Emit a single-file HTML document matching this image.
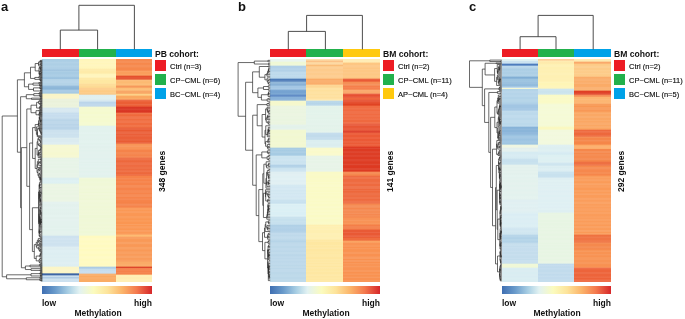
<!DOCTYPE html><html><head><meta charset="utf-8"><style>
*{margin:0;padding:0;box-sizing:border-box}
html,body{width:685px;height:319px;overflow:hidden;background:#fff}
body{position:relative;font-family:"Liberation Sans",sans-serif;color:#111}
.lab,.t,.it,.g,.sl{will-change:transform}
.a{position:absolute}
.lab{font-weight:bold;font-size:13px;line-height:13px;margin-top:-1.5px}
.t{font-weight:bold;font-size:8.6px;line-height:9px;white-space:nowrap}
.it{font-size:7.5px;line-height:8px;white-space:nowrap;color:#111;-webkit-text-stroke:0.15px #111}
.sq{width:11.2px;height:11px}
.g{font-weight:bold;font-size:8.5px;line-height:9px;white-space:nowrap;transform:rotate(-90deg);transform-origin:0 0}
.cb{height:7.6px;background:linear-gradient(to right,#3f6fb2 0%,#6a9bcb 12%,#a9cfe4 24%,#e2f2f2 34%,#fbfbbe 47%,#fde39a 60%,#fbb46a 73%,#f47a4e 86%,#d6272a 100%)}
.sl{font-weight:bold;font-size:8.5px;line-height:9px;white-space:nowrap}
</style></head><body><div class="a lab" style="left:1.0px;top:1px">a</div>
<div class="a" style="left:42.30px;top:49.40px;width:36.40px;height:8.00px;background:#ED1C24"></div>
<div class="a" style="left:78.70px;top:49.40px;width:37.30px;height:8.00px;background:#22B14C"></div>
<div class="a" style="left:116.00px;top:49.40px;width:36.00px;height:8.00px;background:#00A2E8"></div>
<div class="a" style="left:42.30px;top:59.40px;width:36.40px;height:222.20px;background:linear-gradient(to bottom,rgb(171,206,229) 0.95px 2.26px,rgb(178,210,231) 2.96px 4.10px,rgb(173,207,229) 4.80px 6.15px,rgb(178,210,231) 6.85px 8.07px,rgb(174,207,230) 8.77px 10.25px,rgb(156,192,221) 10.95px 11.25px,rgb(174,207,229) 11.95px 12.33px,rgb(167,203,227) 13.03px 15.06px,rgb(172,206,229) 15.76px 17.17px,rgb(167,203,227) 17.87px 18.25px,rgb(145,186,219) 18.95px 19.25px,rgb(180,211,231) 19.95px 21.09px,rgb(184,213,233) 21.79px 23.60px,rgb(180,211,231) 24.30px 26.25px,rgb(148,187,219) 26.95px 28.07px,rgb(140,182,216) 28.77px 30.25px,rgb(170,204,229) 30.95px 32.52px,rgb(166,202,227) 33.22px 34.25px,rgb(250,245,198) 34.95px 36.63px,rgb(250,245,202) 37.33px 39.25px,rgb(235,242,221) 39.95px 41.78px,rgb(234,241,218) 42.48px 43.15px,rgb(236,243,222) 43.85px 45.00px,rgb(235,242,219) 45.70px 46.71px,rgb(236,243,221) 47.41px 48.25px,rgb(214,231,240) 48.95px 49.41px,rgb(217,233,241) 50.11px 52.14px,rgb(214,231,240) 52.84px 53.25px,rgb(198,221,237) 53.95px 54.36px,rgb(202,223,239) 55.06px 55.68px,rgb(199,221,238) 56.38px 57.48px,rgb(201,223,238) 58.18px 59.25px,rgb(190,215,234) 59.95px 60.46px,rgb(186,213,232) 61.16px 61.84px,rgb(191,216,234) 62.54px 64.59px,rgb(185,212,232) 65.29px 66.14px,rgb(190,215,234) 66.84px 67.52px,rgb(185,212,232) 68.22px 70.25px,rgb(204,225,238) 70.95px 73.03px,rgb(207,227,239) 73.73px 74.50px,rgb(204,225,238) 75.20px 76.09px,rgb(206,227,238) 76.79px 77.22px,rgb(204,225,238) 77.92px 78.25px,rgb(221,237,240) 78.95px 79.92px,rgb(219,235,240) 80.62px 82.65px,rgb(222,237,241) 83.35px 85.25px,rgb(246,248,208) 85.95px 86.53px,rgb(246,248,211) 87.23px 89.00px,rgb(246,248,208) 89.70px 90.34px,rgb(246,248,211) 91.04px 93.03px,rgb(246,248,208) 93.73px 95.74px,rgb(246,248,211) 96.44px 98.25px,rgb(231,243,231) 98.95px 99.32px,rgb(233,244,233) 100.02px 100.75px,rgb(231,244,231) 101.45px 102.21px,rgb(233,244,233) 102.91px 104.28px,rgb(231,244,231) 104.98px 105.60px,rgb(233,244,233) 106.30px 106.72px,rgb(231,244,231) 107.42px 108.73px,rgb(233,244,233) 109.43px 110.84px,rgb(231,244,231) 111.54px 113.49px,rgb(233,244,233) 114.19px 114.52px,rgb(232,244,232) 115.22px 116.32px,rgb(233,244,233) 117.02px 117.64px,rgb(232,244,232) 118.29px,rgb(220,239,241) 118.95px 120.85px,rgb(223,241,243) 121.55px 123.04px,rgb(221,240,242) 123.74px 124.25px,rgb(234,245,227) 124.95px 125.28px,rgb(236,245,229) 125.98px 127.54px,rgb(234,245,227) 128.24px 128.58px,rgb(236,245,229) 129.28px 130.45px,rgb(234,245,227) 131.15px 132.02px,rgb(236,245,229) 132.72px 133.16px,rgb(234,245,227) 133.86px 135.49px,rgb(236,245,229) 136.19px 137.81px,rgb(234,245,227) 138.51px 140.24px,rgb(236,245,229) 140.94px 142.25px,rgb(229,242,239) 142.95px 144.82px,rgb(227,241,237) 145.52px 147.24px,rgb(229,242,239) 147.94px 149.27px,rgb(227,242,237) 149.97px 150.96px,rgb(228,242,238) 151.66px 153.06px,rgb(227,241,237) 153.76px 155.21px,rgb(229,243,239) 155.91px 157.79px,rgb(227,241,237) 158.49px 159.49px,rgb(229,242,239) 160.19px 161.54px,rgb(228,242,238) 162.24px 164.04px,rgb(228,242,238) 164.74px 166.40px,rgb(227,242,237) 167.10px 168.48px,rgb(229,243,239) 169.18px 169.89px,rgb(227,242,237) 170.59px 171.79px,rgb(229,242,238) 172.49px 174.44px,rgb(227,242,238) 175.14px 175.46px,rgb(229,242,238) 176.16px 176.25px,rgb(206,226,239) 176.95px 178.88px,rgb(210,228,241) 179.58px 180.68px,rgb(206,226,239) 181.38px 182.26px,rgb(209,228,240) 182.96px 183.62px,rgb(206,226,239) 184.32px 186.07px,rgb(209,228,240) 186.77px 187.25px,rgb(223,238,242) 187.95px 188.82px,rgb(221,237,241) 189.52px 190.71px,rgb(223,239,243) 191.41px 193.24px,rgb(221,238,242) 193.94px 195.95px,rgb(223,239,242) 196.65px 197.26px,rgb(221,238,242) 197.96px 198.75px,rgb(223,239,242) 199.45px 200.50px,rgb(221,238,242) 201.20px 202.38px,rgb(224,239,243) 203.08px 204.90px,rgb(221,238,242) 205.60px 207.25px,rgb(251,245,199) 207.95px 209.82px,rgb(251,245,202) 210.52px 212.10px,rgb(251,245,198) 212.80px 214.05px,rgb(56,97,163) 214.75px 215.29px,rgb(70,109,170) 215.99px 216.05px,rgb(201,222,238) 216.75px 217.30px,rgb(204,224,239) 218.03px,rgb(159,191,222) 218.75px 219.05px,rgb(206,226,239) 219.75px 221.28px,rgb(204,224,239) 221.92px)"></div>
<div class="a" style="left:78.70px;top:59.40px;width:37.30px;height:222.20px;background:linear-gradient(to bottom,rgb(255,246,187) 0.95px 2.10px,rgb(255,246,192) 2.80px 3.42px,rgb(255,246,187) 4.12px 5.04px,rgb(255,246,192) 5.74px 6.98px,rgb(255,246,188) 7.68px 9.25px,rgb(254,236,173) 9.95px 11.88px,rgb(254,235,169) 12.58px 14.25px,rgb(255,245,188) 14.95px 16.07px,rgb(255,245,192) 16.77px 18.25px,rgb(254,234,169) 18.95px 20.83px,rgb(254,232,162) 21.53px 23.53px,rgb(254,233,167) 24.24px,rgb(253,221,154) 24.95px 26.72px,rgb(253,219,148) 27.42px 28.25px,rgb(253,207,144) 28.95px 31.01px,rgb(253,203,133) 31.71px 32.98px,rgb(253,207,143) 33.68px 34.25px,rgb(250,196,127) 34.95px 35.25px,rgb(224,239,239) 35.95px 37.24px,rgb(225,240,240) 37.94px 39.12px,rgb(224,240,240) 39.82px 40.25px,rgb(216,233,240) 40.95px 41.56px,rgb(214,232,240) 42.26px,rgb(187,213,234) 42.95px 44.18px,rgb(193,217,236) 44.88px 47.25px,rgb(245,250,210) 47.95px 49.14px,rgb(245,250,207) 49.84px 50.29px,rgb(245,250,209) 50.99px 52.24px,rgb(245,250,206) 52.94px 54.55px,rgb(245,250,210) 55.25px 56.49px,rgb(245,250,207) 57.19px 58.50px,rgb(245,250,210) 59.20px 60.19px,rgb(245,250,207) 60.89px 62.81px,rgb(245,250,210) 63.51px 65.34px,rgb(245,250,206) 66.04px 66.25px,rgb(226,242,237) 66.95px 68.21px,rgb(227,242,238) 68.91px 70.30px,rgb(226,242,237) 71.00px 73.05px,rgb(228,243,239) 73.75px 74.77px,rgb(226,242,237) 75.47px 76.78px,rgb(227,242,238) 77.48px 79.03px,rgb(226,242,237) 79.73px 81.00px,rgb(228,243,239) 81.70px 83.72px,rgb(226,242,237) 84.42px 85.20px,rgb(228,242,239) 85.90px 86.43px,rgb(226,241,237) 87.13px 88.90px,rgb(228,242,238) 89.60px 90.76px,rgb(226,242,237) 91.46px 92.10px,rgb(228,242,238) 92.80px 94.77px,rgb(227,242,238) 95.47px 97.17px,rgb(228,242,238) 97.87px 98.52px,rgb(226,242,238) 99.22px 100.76px,rgb(228,242,239) 101.46px 102.40px,rgb(226,241,237) 103.10px 103.59px,rgb(228,242,239) 104.29px 104.81px,rgb(226,242,238) 105.51px 106.26px,rgb(228,242,239) 106.96px 108.21px,rgb(226,242,237) 108.91px 109.89px,rgb(228,242,238) 110.59px 111.84px,rgb(226,242,237) 112.54px 113.21px,rgb(228,242,239) 113.91px 115.36px,rgb(226,242,237) 116.06px 118.25px,rgb(241,248,218) 118.95px 119.67px,rgb(239,248,214) 120.37px 122.13px,rgb(240,248,217) 122.83px 123.70px,rgb(240,248,215) 124.40px 126.36px,rgb(241,248,218) 127.06px 129.15px,rgb(240,248,215) 129.85px 130.40px,rgb(240,248,217) 131.10px 132.70px,rgb(239,248,214) 133.40px 133.88px,rgb(241,248,218) 134.58px 135.64px,rgb(240,248,215) 136.34px 136.86px,rgb(240,248,217) 137.56px 139.10px,rgb(239,248,214) 139.80px 140.46px,rgb(241,248,218) 141.16px 143.10px,rgb(240,248,215) 143.80px 144.31px,rgb(240,248,217) 145.01px 146.67px,rgb(240,248,215) 147.37px 148.91px,rgb(240,248,217) 149.61px 150.03px,rgb(239,248,215) 150.73px 151.10px,rgb(241,248,217) 151.80px 153.03px,rgb(240,248,215) 153.73px 154.29px,rgb(241,248,218) 154.99px 155.66px,rgb(239,248,214) 156.36px 158.44px,rgb(240,248,217) 159.14px 159.61px,rgb(240,248,215) 160.31px 162.32px,rgb(240,248,217) 163.02px 164.70px,rgb(240,248,215) 165.40px 166.54px,rgb(241,248,217) 167.24px 168.32px,rgb(239,248,214) 169.02px 169.34px,rgb(240,248,217) 170.04px 171.86px,rgb(239,248,214) 172.56px 173.68px,rgb(240,248,217) 174.38px 175.41px,rgb(240,248,215) 176.11px 176.25px,rgb(255,250,192) 176.95px 178.86px,rgb(255,250,198) 179.56px 181.13px,rgb(255,250,193) 181.83px 183.26px,rgb(255,250,197) 183.96px 185.34px,rgb(255,250,192) 186.04px 188.11px,rgb(255,250,198) 188.81px 189.57px,rgb(255,250,192) 190.27px 191.91px,rgb(255,250,197) 192.61px 194.38px,rgb(255,250,192) 195.08px 196.99px,rgb(255,250,198) 197.69px 199.24px,rgb(255,250,193) 199.94px 201.62px,rgb(255,250,196) 202.32px 203.92px,rgb(255,250,193) 204.62px 205.54px,rgb(255,250,197) 206.24px 206.56px,rgb(255,250,193) 207.25px,rgb(172,203,229) 207.95px 209.25px,rgb(198,221,237) 209.95px 211.44px,rgb(202,223,238) 212.14px 213.40px,rgb(198,221,237) 214.10px 214.25px,rgb(250,177,110) 214.95px 216.62px,rgb(250,170,97) 217.32px 217.66px,rgb(250,175,107) 218.36px 219.99px,rgb(250,172,100) 220.69px 221.85px)"></div>
<div class="a" style="left:116.00px;top:59.40px;width:36.00px;height:222.20px;background:linear-gradient(to bottom,rgb(246,138,79) 0.95px 1.93px,rgb(246,145,90) 2.63px 3.38px,rgb(246,136,76) 4.08px 5.37px,rgb(246,144,88) 6.07px 8.11px,rgb(246,136,76) 8.81px 11.25px,rgb(250,163,101) 11.95px 12.39px,rgb(250,158,92) 13.09px 14.75px,rgb(250,162,98) 15.45px 16.25px,rgb(229,80,45) 16.95px 17.55px,rgb(230,88,55) 18.25px 20.25px,rgb(252,190,123) 20.95px 22.01px,rgb(252,186,114) 22.71px 24.08px,rgb(252,191,123) 24.78px 25.60px,rgb(252,186,115) 26.27px,rgb(246,152,91) 26.95px 28.25px,rgb(252,189,117) 28.95px 29.33px,rgb(252,192,124) 30.03px 31.25px,rgb(248,167,103) 31.95px 33.60px,rgb(248,161,93) 34.27px,rgb(253,209,137) 34.95px 36.25px,rgb(250,168,96) 36.95px 39.00px,rgb(250,174,107) 39.70px 40.25px,rgb(237,108,70) 40.95px 42.09px,rgb(235,94,53) 42.79px 44.56px,rgb(237,106,67) 45.26px 45.77px,rgb(236,97,56) 46.47px 47.25px,rgb(217,54,36) 47.95px 49.20px,rgb(219,66,48) 49.90px 51.00px,rgb(217,53,35) 51.70px 53.25px,rgb(241,118,76) 53.95px 55.01px,rgb(239,105,59) 55.71px 56.96px,rgb(241,118,76) 57.66px 59.68px,rgb(240,109,64) 60.38px 61.10px,rgb(241,118,76) 61.80px 63.71px,rgb(240,108,63) 64.41px 65.84px,rgb(241,118,75) 66.54px 67.32px,rgb(239,107,61) 68.02px 68.25px,rgb(234,101,64) 68.95px 70.61px,rgb(233,90,50) 71.31px 72.05px,rgb(235,105,69) 72.75px 74.70px,rgb(234,95,57) 75.40px 75.77px,rgb(235,103,66) 76.47px 77.26px,rgb(234,95,56) 77.96px 79.38px,rgb(234,101,63) 80.08px 81.36px,rgb(233,92,52) 82.06px 82.51px,rgb(235,104,67) 83.21px 84.25px,rgb(248,148,86) 84.95px 86.11px,rgb(248,154,97) 86.81px 87.73px,rgb(248,148,87) 88.43px 90.25px,rgb(245,131,74) 90.95px 92.71px,rgb(245,138,84) 93.41px 95.09px,rgb(245,132,76) 95.79px 96.85px,rgb(245,138,85) 97.55px 98.25px,rgb(238,114,73) 98.95px 101.03px,rgb(237,104,60) 101.73px 103.02px,rgb(239,114,74) 103.72px 105.68px,rgb(238,107,65) 106.38px 107.34px,rgb(238,113,71) 108.04px 109.92px,rgb(237,105,62) 110.62px 111.06px,rgb(239,116,75) 111.76px 112.94px,rgb(237,104,60) 113.64px 114.48px,rgb(238,113,72) 115.18px 115.61px,rgb(238,107,65) 116.28px,rgb(246,130,73) 116.95px 118.55px,rgb(246,137,84) 119.25px 120.06px,rgb(246,130,73) 120.76px 121.71px,rgb(246,137,83) 122.41px 123.37px,rgb(246,131,74) 124.07px 125.64px,rgb(246,141,88) 126.34px 128.30px,rgb(246,131,75) 129.00px 130.94px,rgb(246,138,84) 131.64px 133.39px,rgb(246,132,75) 134.09px 134.96px,rgb(246,141,88) 135.66px 137.64px,rgb(246,132,75) 138.34px 139.09px,rgb(246,138,85) 139.79px 140.75px,rgb(246,132,75) 141.45px 142.25px,rgb(245,130,72) 142.95px 144.26px,rgb(245,140,88) 144.96px 146.24px,rgb(245,132,76) 146.94px 148.25px,rgb(250,157,94) 148.95px 150.84px,rgb(250,152,85) 151.54px 151.88px,rgb(250,158,96) 152.58px 153.86px,rgb(250,151,84) 154.56px 156.59px,rgb(250,157,93) 157.29px 159.04px,rgb(250,151,83) 159.74px 161.03px,rgb(250,157,93) 161.73px 162.18px,rgb(250,150,82) 162.88px 164.50px,rgb(250,159,96) 165.20px 165.66px,rgb(250,151,83) 166.36px 166.92px,rgb(250,157,94) 167.62px 169.08px,rgb(250,151,83) 169.78px 170.48px,rgb(250,159,97) 171.18px 172.42px,rgb(250,152,86) 173.12px 174.13px,rgb(250,159,96) 174.83px 175.25px,rgb(253,187,115) 175.95px 177.25px,rgb(249,160,98) 177.95px 179.90px,rgb(249,153,87) 180.60px 182.38px,rgb(249,161,100) 183.08px 184.92px,rgb(249,152,86) 185.62px 187.42px,rgb(249,161,99) 188.12px 190.15px,rgb(249,153,87) 190.85px 192.09px,rgb(249,160,98) 192.79px 194.53px,rgb(249,155,90) 195.23px 196.29px,rgb(249,162,101) 196.99px 198.62px,rgb(249,155,90) 199.32px 200.30px,rgb(249,160,98) 201.00px 202.25px,rgb(250,171,103) 202.95px 205.00px,rgb(250,174,109) 205.70px 206.55px,rgb(250,169,100) 207.25px,rgb(221,70,44) 207.95px 208.85px,rgb(245,134,81) 209.55px 211.49px,rgb(245,129,74) 212.19px 212.68px,rgb(245,135,82) 213.38px 214.07px,rgb(245,128,72) 214.77px 215.25px,rgb(255,238,178) 215.95px 216.58px,rgb(255,239,183) 217.28px 217.89px,rgb(255,237,177) 218.59px 219.45px,rgb(255,239,182) 220.15px 221.85px)"></div>
<div class="a t" style="left:155.00px;top:49.5px">PB cohort:</div>
<div class="a sq" style="left:155.00px;top:60.40px;background:#ED1C24"></div>
<div class="a it" style="left:170.20px;top:62.80px">Ctrl (n=3)</div>
<div class="a sq" style="left:155.00px;top:74.35px;background:#22B14C"></div>
<div class="a it" style="left:170.20px;top:76.75px">CP−CML (n=6)</div>
<div class="a sq" style="left:155.00px;top:88.30px;background:#00A2E8"></div>
<div class="a it" style="left:170.20px;top:90.70px">BC−CML (n=4)</div>
<div class="a g" style="left:157.50px;top:192.20px">348 genes</div>
<div class="a cb" style="left:42.30px;top:286.4px;width:109.70px"></div>
<div class="a sl" style="left:42.30px;top:298.5px">low</div>
<div class="a sl" style="left:132.00px;top:298.5px;width:20px;text-align:right">high</div>
<div class="a sl" style="left:67.65px;top:308.5px;width:60px;text-align:center">Methylation</div>
<div class="a lab" style="left:237.5px;top:1px">b</div>
<div class="a" style="left:270.20px;top:49.40px;width:36.10px;height:8.00px;background:#ED1C24"></div>
<div class="a" style="left:306.30px;top:49.40px;width:37.00px;height:8.00px;background:#22B14C"></div>
<div class="a" style="left:343.30px;top:49.40px;width:36.70px;height:8.00px;background:#FFC90E"></div>
<div class="a" style="left:270.20px;top:59.40px;width:36.10px;height:222.20px;background:linear-gradient(to bottom,rgb(234,245,239) 0.45px 2.25px,rgb(239,248,213) 2.95px 4.24px,rgb(240,248,216) 4.94px 6.25px,rgb(177,208,231) 6.95px 8.96px,rgb(183,212,233) 9.66px 10.65px,rgb(178,209,231) 11.35px 12.25px,rgb(192,219,236) 12.95px 14.43px,rgb(188,217,235) 15.13px 15.45px,rgb(193,220,237) 16.15px 17.12px,rgb(188,217,235) 17.82px 19.25px,rgb(75,122,183) 19.95px 20.53px,rgb(88,131,188) 21.23px 22.25px,rgb(146,184,217) 22.95px 24.40px,rgb(136,177,214) 25.10px 26.25px,rgb(164,199,228) 26.95px 28.64px,rgb(169,202,229) 29.34px 30.25px,rgb(123,167,211) 30.95px 31.40px,rgb(118,163,209) 32.10px 33.69px,rgb(124,168,211) 34.39px 35.25px,rgb(97,140,198) 35.95px 37.25px,rgb(137,178,217) 37.95px 39.67px,rgb(142,181,219) 40.37px 41.25px,rgb(245,248,207) 41.95px 42.63px,rgb(245,248,204) 43.33px 44.57px,rgb(245,248,206) 45.27px 46.25px,rgb(234,245,224) 46.95px 47.39px,rgb(236,245,226) 48.09px 49.23px,rgb(234,245,224) 49.93px 50.88px,rgb(236,245,226) 51.58px 52.07px,rgb(234,245,224) 52.77px 53.90px,rgb(236,245,226) 54.60px 56.39px,rgb(234,245,224) 57.09px 57.41px,rgb(235,245,226) 58.11px 59.69px,rgb(234,245,224) 60.39px 61.71px,rgb(236,245,226) 62.41px 62.72px,rgb(235,245,224) 63.42px 65.25px,rgb(229,242,236) 65.95px 66.77px,rgb(227,242,234) 67.47px 68.74px,rgb(229,242,236) 69.44px 70.25px,rgb(242,248,211) 70.95px 71.71px,rgb(242,248,209) 72.41px 74.03px,rgb(242,248,212) 74.73px 76.73px,rgb(242,248,209) 77.43px 79.03px,rgb(242,248,211) 79.73px 81.52px,rgb(242,248,209) 82.22px 82.77px,rgb(243,248,212) 83.47px 84.99px,rgb(242,248,209) 85.69px 86.32px,rgb(242,248,212) 87.02px 88.25px,rgb(168,204,227) 88.95px 89.66px,rgb(172,206,229) 90.36px 90.88px,rgb(166,203,227) 91.58px 92.01px,rgb(173,207,229) 92.71px 93.78px,rgb(166,203,227) 94.48px 96.25px,rgb(206,229,240) 96.95px 97.94px,rgb(204,228,240) 98.64px 99.69px,rgb(207,229,241) 100.39px 101.41px,rgb(203,227,239) 102.11px 104.18px,rgb(207,229,241) 104.88px 105.25px,rgb(178,209,231) 105.95px 106.85px,rgb(181,211,232) 107.55px 108.25px,rgb(203,227,239) 108.95px 110.17px,rgb(207,229,241) 110.87px 112.25px,rgb(224,239,242) 112.95px 114.63px,rgb(226,240,243) 115.33px 116.62px,rgb(224,240,243) 117.32px 118.52px,rgb(226,241,244) 119.22px 120.80px,rgb(224,239,243) 121.50px 122.73px,rgb(226,240,243) 123.43px 125.25px,rgb(213,233,242) 125.95px 127.38px,rgb(211,231,242) 128.08px 128.53px,rgb(214,233,243) 129.23px 130.57px,rgb(210,231,241) 131.27px 132.16px,rgb(213,233,242) 132.86px 133.81px,rgb(210,231,241) 134.51px 135.03px,rgb(214,233,243) 135.73px 136.28px,rgb(211,231,242) 136.98px 138.25px,rgb(213,233,242) 138.95px 140.25px,rgb(202,226,239) 140.95px 143.04px,rgb(199,224,238) 143.74px 144.25px,rgb(222,241,245) 144.95px 145.77px,rgb(219,239,245) 146.47px 147.20px,rgb(221,240,245) 147.90px 149.70px,rgb(219,240,245) 150.40px 151.68px,rgb(221,240,245) 152.38px 152.74px,rgb(218,239,245) 153.44px 155.52px,rgb(221,240,245) 156.22px 157.25px,rgb(202,226,238) 157.95px 159.58px,rgb(198,224,237) 160.28px 161.64px,rgb(201,226,238) 162.34px 162.67px,rgb(199,224,238) 163.37px 164.52px,rgb(202,226,239) 165.23px,rgb(176,208,230) 165.95px 167.19px,rgb(180,210,232) 167.89px 169.21px,rgb(177,208,231) 169.91px 171.36px,rgb(180,210,231) 172.06px 173.25px,rgb(194,219,236) 173.95px 175.33px,rgb(190,217,234) 176.03px 177.07px,rgb(195,220,236) 177.77px 179.31px,rgb(190,217,234) 180.01px 181.25px,rgb(179,210,231) 181.95px 182.25px,rgb(188,216,233) 182.95px 184.03px,rgb(192,218,235) 184.73px 186.66px,rgb(188,216,233) 187.36px 188.61px,rgb(192,218,235) 189.31px 191.23px,rgb(187,215,233) 191.93px 192.33px,rgb(193,219,235) 193.03px 194.95px,rgb(187,215,233) 195.65px 197.03px,rgb(192,218,235) 197.73px 198.58px,rgb(189,216,234) 199.28px 199.70px,rgb(192,218,235) 200.40px 201.51px,rgb(189,216,234) 202.21px 203.22px,rgb(192,218,235) 203.92px 205.47px,rgb(188,216,233) 206.17px 206.90px,rgb(192,218,234) 207.60px 208.61px,rgb(187,215,233) 209.31px 209.74px,rgb(192,218,235) 210.44px 212.48px,rgb(188,216,233) 213.18px 215.04px,rgb(191,218,234) 215.74px 217.49px,rgb(188,216,233) 218.19px 219.83px,rgb(191,218,234) 220.53px 221.85px)"></div>
<div class="a" style="left:306.30px;top:59.40px;width:37.00px;height:222.20px;background:linear-gradient(to bottom,rgb(253,226,173) 0.45px 1.25px,rgb(250,182,123) 1.95px 2.25px,rgb(253,214,158) 2.95px 3.83px,rgb(253,217,164) 4.53px 5.25px,rgb(250,188,120) 5.95px 6.75px,rgb(253,203,140) 7.45px 7.81px,rgb(253,207,149) 8.51px 9.36px,rgb(253,203,140) 10.06px 12.04px,rgb(253,206,147) 12.74px 13.89px,rgb(253,203,140) 14.59px 15.42px,rgb(253,206,147) 16.12px 18.04px,rgb(253,204,142) 18.74px 19.25px,rgb(250,171,103) 19.95px 20.56px,rgb(250,177,113) 21.26px 23.35px,rgb(250,173,107) 24.05px 25.25px,rgb(253,216,152) 25.95px 26.34px,rgb(253,214,147) 27.04px 28.25px,rgb(254,226,164) 28.95px 30.82px,rgb(254,224,156) 31.52px 32.06px,rgb(254,226,163) 32.76px 34.75px,rgb(254,224,158) 35.45px 35.89px,rgb(254,226,164) 36.59px 37.44px,rgb(254,224,158) 38.14px 38.79px,rgb(254,226,164) 39.49px 40.25px,rgb(254,241,192) 40.95px 41.25px,rgb(187,216,234) 41.95px 43.31px,rgb(182,213,233) 44.01px 44.85px,rgb(187,216,235) 45.55px 46.25px,rgb(229,244,236) 46.95px 47.41px,rgb(227,243,234) 48.11px 49.20px,rgb(228,243,235) 49.90px 51.16px,rgb(227,243,235) 51.86px 53.24px,rgb(229,244,236) 53.94px 54.69px,rgb(227,243,235) 55.39px 55.85px,rgb(229,243,235) 56.55px 58.21px,rgb(227,243,234) 58.91px 59.71px,rgb(229,244,236) 60.41px 61.05px,rgb(228,243,235) 61.75px 63.82px,rgb(229,243,236) 64.52px 65.65px,rgb(227,242,234) 66.35px 67.35px,rgb(229,243,235) 68.05px 69.25px,rgb(227,243,234) 69.95px 71.25px,rgb(229,243,236) 71.95px 73.25px,rgb(197,221,237) 73.95px 75.18px,rgb(193,219,235) 75.88px 77.70px,rgb(198,222,237) 78.40px 79.64px,rgb(192,219,235) 80.29px,rgb(219,238,240) 80.95px 82.34px,rgb(221,239,241) 83.04px 84.14px,rgb(219,237,239) 84.84px 86.55px,rgb(221,239,240) 87.25px 88.25px,rgb(250,250,203) 88.95px 90.29px,rgb(250,250,207) 90.99px 91.36px,rgb(250,250,203) 92.06px 93.64px,rgb(250,250,206) 94.34px 96.25px,rgb(231,244,231) 96.95px 97.28px,rgb(233,244,233) 97.98px 99.06px,rgb(231,244,231) 99.76px 100.54px,rgb(233,245,233) 101.24px 101.67px,rgb(231,244,231) 102.37px 103.69px,rgb(233,244,233) 104.39px 106.12px,rgb(231,244,231) 106.82px 107.38px,rgb(233,244,233) 108.08px 108.46px,rgb(231,244,231) 109.16px 110.57px,rgb(233,244,233) 111.27px 112.25px,rgb(250,250,199) 112.95px 114.73px,rgb(250,250,201) 115.43px 116.19px,rgb(250,250,198) 116.89px 118.43px,rgb(250,250,201) 119.13px 120.84px,rgb(250,250,198) 121.54px 122.58px,rgb(250,250,203) 123.28px 123.97px,rgb(250,250,198) 124.67px 125.05px,rgb(250,250,203) 125.75px 127.42px,rgb(250,250,198) 128.12px 128.68px,rgb(250,250,201) 129.38px 131.02px,rgb(250,250,197) 131.72px 132.45px,rgb(250,250,202) 133.15px 133.71px,rgb(250,250,198) 134.41px 135.25px,rgb(250,250,201) 135.95px 136.38px,rgb(250,250,198) 137.08px 139.18px,rgb(250,250,201) 139.88px 141.50px,rgb(250,250,198) 142.20px 142.95px,rgb(250,250,202) 143.65px 144.39px,rgb(250,250,198) 145.09px 147.07px,rgb(250,250,203) 147.77px 148.67px,rgb(250,250,199) 149.37px 150.77px,rgb(250,250,202) 151.47px 152.50px,rgb(250,250,199) 153.20px 153.60px,rgb(250,250,202) 154.30px 155.85px,rgb(250,250,197) 156.55px 157.92px,rgb(250,250,202) 158.62px 159.75px,rgb(250,250,198) 160.45px 162.27px,rgb(250,250,201) 162.97px 165.25px,rgb(254,239,177) 165.95px 166.58px,rgb(254,240,182) 167.28px 167.88px,rgb(254,240,178) 168.58px 169.26px,rgb(254,240,182) 169.96px 170.82px,rgb(254,239,177) 171.52px 173.60px,rgb(254,240,182) 174.30px 176.16px,rgb(254,240,179) 176.86px 177.85px,rgb(254,240,182) 178.55px 180.25px,rgb(254,232,163) 180.95px 181.28px,rgb(254,233,168) 181.98px 182.76px,rgb(254,231,161) 183.46px 185.42px,rgb(254,233,167) 186.12px 186.90px,rgb(254,231,161) 187.60px 188.18px,rgb(254,233,169) 188.88px 189.83px,rgb(254,231,161) 190.53px 192.13px,rgb(254,233,167) 192.83px 193.16px,rgb(254,232,163) 193.86px 194.86px,rgb(254,233,167) 195.56px 197.44px,rgb(254,231,162) 198.14px 199.83px,rgb(254,233,168) 200.53px 200.93px,rgb(254,232,164) 201.63px 202.36px,rgb(254,233,168) 203.06px 203.63px,rgb(254,231,163) 204.33px 204.69px,rgb(254,233,168) 205.39px 206.45px,rgb(254,231,161) 207.15px 207.70px,rgb(254,233,169) 208.40px 209.17px,rgb(254,232,163) 209.87px 211.36px,rgb(254,233,167) 212.06px 212.73px,rgb(254,231,162) 213.43px 215.02px,rgb(254,233,169) 215.72px 216.71px,rgb(254,231,163) 217.41px 218.12px,rgb(254,233,167) 218.82px 219.74px,rgb(254,232,164) 220.44px 220.81px,rgb(254,233,168) 221.51px 221.85px)"></div>
<div class="a" style="left:343.30px;top:59.40px;width:36.70px;height:222.20px;background:linear-gradient(to bottom,rgb(255,236,182) 0.45px 2.51px,rgb(255,234,176) 3.23px,rgb(253,198,130) 3.95px 5.49px,rgb(253,202,140) 6.19px 8.21px,rgb(253,198,131) 8.91px 9.63px,rgb(253,202,139) 10.33px 10.79px,rgb(253,199,133) 11.49px 12.50px,rgb(253,201,138) 13.20px 14.19px,rgb(253,199,132) 14.89px 16.09px,rgb(253,202,138) 16.79px 17.37px,rgb(253,199,132) 18.07px 19.25px,rgb(235,98,64) 19.95px 20.68px,rgb(234,90,54) 21.38px 22.25px,rgb(245,141,83) 22.95px 24.30px,rgb(245,149,97) 25.00px 26.25px,rgb(245,127,75) 26.95px 27.95px,rgb(245,134,85) 28.65px 29.07px,rgb(245,126,74) 29.77px 30.25px,rgb(250,172,114) 30.95px 32.09px,rgb(250,169,108) 32.79px 33.55px,rgb(250,174,117) 34.25px,rgb(233,92,63) 34.95px 35.72px,rgb(231,80,49) 36.42px 37.06px,rgb(233,93,65) 37.76px 38.25px,rgb(239,103,61) 38.95px 40.25px,rgb(231,91,62) 40.95px 42.38px,rgb(229,80,49) 43.08px 44.25px,rgb(224,67,35) 44.95px 46.25px,rgb(240,108,67) 46.95px 48.89px,rgb(240,115,76) 49.59px 50.13px,rgb(240,106,65) 50.83px 51.69px,rgb(240,113,74) 52.39px 54.45px,rgb(240,107,66) 55.15px 55.79px,rgb(240,113,74) 56.49px 58.02px,rgb(239,105,64) 58.72px 59.02px,rgb(240,113,74) 59.72px 60.73px,rgb(239,105,63) 61.43px 62.62px,rgb(241,115,77) 63.32px 64.25px,rgb(233,98,68) 64.95px 66.75px,rgb(231,86,53) 67.45px 68.35px,rgb(233,94,63) 69.05px 71.25px,rgb(221,68,48) 71.95px 73.25px,rgb(236,98,64) 73.95px 75.73px,rgb(235,90,54) 76.43px 77.85px,rgb(237,99,65) 78.55px 79.87px,rgb(235,88,52) 80.57px 81.38px,rgb(236,99,65) 82.08px 83.34px,rgb(235,91,55) 84.04px 84.79px,rgb(237,100,66) 85.49px 86.11px,rgb(236,92,57) 86.81px 87.25px,rgb(221,57,34) 87.95px 88.43px,rgb(223,71,49) 89.13px 89.64px,rgb(221,59,35) 90.34px 92.03px,rgb(223,74,52) 92.73px 93.32px,rgb(221,62,38) 94.02px 95.89px,rgb(223,71,49) 96.59px 97.34px,rgb(221,60,36) 98.04px 99.78px,rgb(223,70,47) 100.48px 102.06px,rgb(221,60,36) 102.76px 104.35px,rgb(223,73,51) 105.05px 105.95px,rgb(221,57,33) 106.65px 108.47px,rgb(223,71,48) 109.17px 110.49px,rgb(221,58,34) 111.19px 112.25px,rgb(245,142,88) 112.95px 114.69px,rgb(245,136,78) 115.39px 116.25px,rgb(238,108,65) 116.95px 117.58px,rgb(239,117,77) 118.28px 119.64px,rgb(238,107,64) 120.34px 122.38px,rgb(239,114,74) 123.08px 124.62px,rgb(238,106,63) 125.32px 126.76px,rgb(239,117,77) 127.46px 129.44px,rgb(237,104,61) 130.14px 130.53px,rgb(238,112,71) 131.23px 131.74px,rgb(237,104,60) 132.44px 133.25px,rgb(238,113,72) 133.95px 136.04px,rgb(238,108,65) 136.74px 137.64px,rgb(239,115,74) 138.34px 139.61px,rgb(238,106,63) 140.31px 141.28px,rgb(239,116,76) 141.98px 144.25px,rgb(245,136,79) 144.95px 145.96px,rgb(245,146,93) 146.66px 148.33px,rgb(245,135,78) 149.03px 150.03px,rgb(245,145,92) 150.73px 152.02px,rgb(245,138,81) 152.72px 153.28px,rgb(245,145,93) 153.98px 154.47px,rgb(245,136,80) 155.17px 155.93px,rgb(245,143,89) 156.63px 157.14px,rgb(245,136,79) 157.84px 158.25px,rgb(248,147,86) 158.95px 160.38px,rgb(248,153,95) 161.08px 161.79px,rgb(248,147,86) 162.49px 163.44px,rgb(248,152,93) 164.14px 164.54px,rgb(248,147,86) 165.24px,rgb(244,126,72) 165.95px 166.58px,rgb(244,133,82) 167.28px 169.37px,rgb(244,126,72) 170.07px 170.25px,rgb(233,90,54) 170.95px 172.70px,rgb(235,100,67) 173.40px 173.81px,rgb(233,89,53) 174.51px 175.99px,rgb(235,103,69) 176.69px 177.49px,rgb(233,87,50) 178.19px 178.25px,rgb(239,109,63) 178.95px 181.25px,rgb(250,163,97) 181.95px 182.30px,rgb(250,167,103) 183.00px 183.25px,rgb(249,147,84) 183.95px 185.61px,rgb(249,152,91) 186.31px 187.53px,rgb(249,145,80) 188.23px 188.91px,rgb(249,154,94) 189.61px 189.93px,rgb(249,146,81) 190.63px 192.39px,rgb(249,153,93) 193.09px 194.71px,rgb(249,145,81) 195.41px 197.16px,rgb(249,155,96) 197.86px 199.54px,rgb(249,145,80) 200.24px 200.72px,rgb(249,154,95) 201.42px 202.45px,rgb(249,145,80) 203.15px 203.90px,rgb(249,154,94) 204.60px 204.94px,rgb(249,147,83) 205.64px 206.35px,rgb(249,154,94) 207.05px 208.01px,rgb(249,147,83) 208.71px 210.47px,rgb(249,153,93) 211.17px 212.62px,rgb(249,145,80) 213.32px 214.12px,rgb(249,152,91) 214.82px 215.70px,rgb(249,146,81) 216.40px 217.30px,rgb(249,154,95) 218.00px 218.68px,rgb(249,146,82) 219.38px 220.67px,rgb(249,152,91) 221.37px 221.85px)"></div>
<div class="a t" style="left:382.80px;top:49.5px">BM cohort:</div>
<div class="a sq" style="left:382.80px;top:60.40px;background:#ED1C24"></div>
<div class="a it" style="left:398.00px;top:62.80px">Ctrl (n=2)</div>
<div class="a sq" style="left:382.80px;top:74.35px;background:#22B14C"></div>
<div class="a it" style="left:398.00px;top:76.75px">CP−CML (n=11)</div>
<div class="a sq" style="left:382.80px;top:88.30px;background:#FFC90E"></div>
<div class="a it" style="left:398.00px;top:90.70px">AP−CML (n=4)</div>
<div class="a g" style="left:385.50px;top:192.20px">141 genes</div>
<div class="a cb" style="left:270.20px;top:286.4px;width:109.80px"></div>
<div class="a sl" style="left:270.20px;top:298.5px">low</div>
<div class="a sl" style="left:360.00px;top:298.5px;width:20px;text-align:right">high</div>
<div class="a sl" style="left:295.60px;top:308.5px;width:60px;text-align:center">Methylation</div>
<div class="a lab" style="left:469.0px;top:1px">c</div>
<div class="a" style="left:501.80px;top:49.40px;width:36.10px;height:8.00px;background:#ED1C24"></div>
<div class="a" style="left:537.90px;top:49.40px;width:36.40px;height:8.00px;background:#22B14C"></div>
<div class="a" style="left:574.30px;top:49.40px;width:36.70px;height:8.00px;background:#00A2E8"></div>
<div class="a" style="left:501.80px;top:59.40px;width:36.10px;height:222.20px;background:linear-gradient(to bottom,rgb(224,240,242) 0.45px 1.75px,rgb(204,227,240) 2.45px 4.25px,rgb(77,124,189) 4.95px 6.25px,rgb(188,217,236) 6.95px 8.25px,rgb(179,210,231) 8.95px 9.45px,rgb(171,206,229) 10.15px 11.22px,rgb(177,209,231) 11.92px 12.61px,rgb(173,207,229) 13.31px 14.89px,rgb(178,210,231) 15.59px 16.38px,rgb(173,207,229) 17.08px 17.25px,rgb(129,174,212) 17.95px 19.25px,rgb(157,196,224) 19.95px 21.39px,rgb(162,199,226) 22.09px 22.25px,rgb(155,193,223) 22.95px 24.85px,rgb(147,188,221) 25.55px 27.25px,rgb(193,218,235) 27.95px 28.75px,rgb(245,248,212) 29.45px 29.75px,rgb(180,212,232) 30.45px 31.44px,rgb(185,214,234) 32.14px 33.52px,rgb(181,212,233) 34.22px 35.45px,rgb(184,214,234) 36.15px 37.58px,rgb(179,211,232) 38.28px 39.65px,rgb(183,214,233) 40.35px 42.33px,rgb(178,211,232) 43.03px 44.25px,rgb(169,202,229) 44.95px 45.81px,rgb(162,198,227) 46.51px 48.59px,rgb(167,201,229) 49.29px 51.25px,rgb(192,219,236) 51.95px 53.13px,rgb(188,217,235) 53.83px 55.65px,rgb(193,220,237) 56.35px 58.33px,rgb(188,217,235) 59.03px 60.77px,rgb(191,219,236) 61.47px 63.56px,rgb(187,217,235) 64.26px 66.12px,rgb(193,220,237) 66.82px 67.25px,rgb(135,179,216) 67.95px 69.22px,rgb(143,184,219) 69.92px 70.57px,rgb(138,181,217) 71.27px 72.73px,rgb(145,185,220) 73.43px 75.25px,rgb(156,196,225) 75.95px 76.69px,rgb(164,200,227) 77.39px 79.22px,rgb(156,195,225) 79.92px 81.21px,rgb(162,199,227) 81.91px 83.65px,rgb(158,197,225) 84.35px 85.25px,rgb(239,246,224) 85.95px 86.87px,rgb(240,246,226) 87.57px 88.25px,rgb(227,239,237) 88.95px 89.95px,rgb(229,241,239) 90.65px 92.25px,rgb(214,235,242) 92.95px 95.03px,rgb(217,236,243) 95.73px 97.16px,rgb(214,235,242) 97.86px 99.25px,rgb(201,225,238) 99.95px 101.03px,rgb(199,224,238) 101.73px 102.64px,rgb(201,226,238) 103.34px 105.25px,rgb(229,242,238) 105.95px 107.50px,rgb(227,241,237) 108.20px 108.73px,rgb(229,242,238) 109.43px 110.57px,rgb(227,241,237) 111.27px 111.78px,rgb(229,242,238) 112.48px 113.88px,rgb(227,241,237) 114.58px 115.23px,rgb(229,243,239) 115.93px 117.48px,rgb(227,242,238) 118.18px 119.12px,rgb(229,242,238) 119.82px 120.86px,rgb(227,242,237) 121.56px 123.00px,rgb(229,242,238) 123.70px 125.47px,rgb(227,242,237) 126.17px 127.29px,rgb(229,242,238) 127.99px 129.99px,rgb(227,242,238) 130.69px 132.26px,rgb(229,242,238) 132.96px 134.30px,rgb(227,242,238) 135.00px 136.87px,rgb(229,243,239) 137.57px 139.41px,rgb(227,241,237) 140.11px 140.25px,rgb(224,239,242) 140.95px 142.59px,rgb(226,240,242) 143.29px 144.40px,rgb(224,240,242) 145.10px 146.15px,rgb(226,241,243) 146.85px 147.94px,rgb(224,239,241) 148.64px 149.47px,rgb(226,240,242) 150.17px 151.68px,rgb(224,240,242) 152.38px 153.25px,rgb(221,239,244) 153.95px 154.70px,rgb(218,237,244) 155.40px 156.32px,rgb(221,239,244) 157.02px 158.85px,rgb(219,238,244) 159.55px 160.83px,rgb(221,238,244) 161.53px 163.44px,rgb(219,238,244) 164.14px 165.10px,rgb(221,239,244) 165.80px 167.40px,rgb(218,237,243) 168.10px 168.25px,rgb(212,232,242) 168.95px 169.29px,rgb(209,230,241) 169.99px 171.14px,rgb(211,232,241) 171.84px 172.97px,rgb(208,230,240) 173.67px 175.25px,rgb(184,214,233) 175.95px 178.01px,rgb(177,210,231) 178.71px 179.72px,rgb(183,214,233) 180.42px 181.89px,rgb(179,211,232) 182.59px 183.25px,rgb(196,221,236) 183.95px 184.97px,rgb(201,224,238) 185.67px 186.36px,rgb(196,221,236) 187.06px 187.74px,rgb(200,223,238) 188.44px 189.00px,rgb(197,221,237) 189.70px 191.33px,rgb(200,223,238) 192.03px 192.63px,rgb(196,221,236) 193.33px 194.76px,rgb(200,223,238) 195.46px 196.21px,rgb(196,221,236) 196.91px 198.53px,rgb(200,223,238) 199.23px 199.74px,rgb(195,221,236) 200.44px 200.77px,rgb(201,224,238) 201.47px 203.47px,rgb(196,221,237) 204.17px 204.25px,rgb(240,248,216) 204.95px 206.21px,rgb(240,248,214) 206.91px 208.25px,rgb(219,238,242) 208.95px 209.47px,rgb(217,237,242) 210.17px 210.71px,rgb(219,237,242) 211.41px 212.63px,rgb(217,237,242) 213.33px 215.03px,rgb(219,237,242) 215.73px 216.77px,rgb(217,236,242) 217.47px 218.17px,rgb(219,238,242) 218.87px 220.17px,rgb(217,237,242) 220.87px 221.85px)"></div>
<div class="a" style="left:537.90px;top:59.40px;width:36.40px;height:222.20px;background:linear-gradient(to bottom,rgb(253,207,155) 0.45px 1.25px,rgb(254,236,178) 1.95px 2.98px,rgb(254,234,171) 3.68px 4.25px,rgb(254,240,178) 4.95px 5.27px,rgb(254,241,183) 5.97px 7.74px,rgb(254,240,178) 8.44px 10.03px,rgb(254,240,181) 10.73px 11.98px,rgb(254,240,178) 12.68px 13.18px,rgb(254,241,183) 13.88px 15.92px,rgb(254,240,179) 16.62px 18.44px,rgb(254,240,181) 19.14px 20.19px,rgb(254,240,179) 20.89px 22.25px,rgb(254,245,187) 22.95px 23.84px,rgb(254,245,182) 24.54px 26.02px,rgb(254,245,187) 26.72px 29.25px,rgb(206,229,238) 29.95px 31.88px,rgb(203,227,237) 32.58px 33.42px,rgb(206,229,238) 34.12px 35.25px,rgb(250,250,198) 35.95px 37.11px,rgb(250,250,202) 37.81px 38.88px,rgb(250,250,198) 39.58px 39.97px,rgb(250,250,202) 40.67px 41.08px,rgb(250,250,198) 41.78px 43.07px,rgb(250,250,201) 43.77px 44.25px,rgb(245,250,214) 44.95px 45.82px,rgb(245,250,217) 46.52px 47.23px,rgb(245,250,214) 47.93px 49.11px,rgb(245,250,217) 49.81px 50.84px,rgb(245,250,214) 51.54px 51.85px,rgb(245,250,216) 52.55px 54.58px,rgb(245,250,214) 55.28px 56.66px,rgb(245,250,216) 57.36px 58.20px,rgb(245,250,214) 58.90px 60.26px,rgb(245,250,216) 60.96px 62.16px,rgb(245,250,214) 62.86px 64.51px,rgb(245,250,216) 65.21px 65.68px,rgb(245,250,213) 66.38px 67.25px,rgb(250,248,193) 67.95px 70.25px,rgb(242,249,221) 70.95px 72.47px,rgb(243,249,223) 73.17px 75.25px,rgb(242,249,221) 75.95px 76.84px,rgb(243,249,223) 77.54px 79.31px,rgb(242,249,221) 80.01px 81.47px,rgb(242,249,223) 82.17px 83.84px,rgb(242,249,221) 84.54px 85.25px,rgb(223,240,242) 85.95px 87.40px,rgb(221,239,241) 88.10px 90.08px,rgb(223,240,242) 90.78px 92.25px,rgb(217,236,243) 92.95px 94.00px,rgb(213,234,241) 94.70px 95.25px,rgb(221,240,242) 95.95px 97.66px,rgb(223,240,242) 98.36px 100.01px,rgb(221,240,242) 100.71px 101.82px,rgb(223,240,242) 102.52px 103.25px,rgb(209,230,240) 103.95px 104.38px,rgb(206,229,239) 105.08px 106.25px,rgb(221,238,242) 106.95px 107.45px,rgb(218,237,241) 108.15px 109.01px,rgb(222,239,243) 109.71px 111.02px,rgb(219,237,242) 111.72px 112.25px,rgb(203,227,239) 112.95px 114.76px,rgb(200,225,238) 115.46px 117.33px,rgb(204,227,239) 118.03px 118.25px,rgb(223,239,242) 118.95px 120.46px,rgb(225,241,243) 121.16px 122.35px,rgb(223,239,242) 123.05px 124.05px,rgb(225,241,243) 124.75px 125.24px,rgb(223,239,243) 125.94px 126.54px,rgb(225,240,243) 127.24px 127.90px,rgb(223,240,243) 128.60px 129.20px,rgb(225,240,243) 129.90px 131.26px,rgb(223,239,243) 131.96px 132.96px,rgb(225,240,243) 133.66px 135.48px,rgb(223,240,243) 136.18px 137.53px,rgb(225,240,243) 138.23px 140.29px,rgb(223,240,243) 140.99px 142.55px,rgb(225,241,243) 143.25px 144.02px,rgb(223,240,243) 144.72px 146.06px,rgb(225,241,244) 146.76px 147.17px,rgb(223,239,243) 147.87px 148.85px,rgb(225,241,243) 149.55px 150.63px,rgb(222,239,242) 151.33px 152.64px,rgb(225,240,243) 153.29px,rgb(231,245,227) 153.95px 154.67px,rgb(233,245,229) 155.37px 155.85px,rgb(232,245,228) 156.55px 158.38px,rgb(233,245,229) 159.08px 160.63px,rgb(231,245,227) 161.33px 162.63px,rgb(233,245,229) 163.33px 163.90px,rgb(231,245,227) 164.60px 166.28px,rgb(233,245,229) 166.98px 167.45px,rgb(231,245,227) 168.15px 168.84px,rgb(233,245,229) 169.54px 170.81px,rgb(231,245,227) 171.51px 172.02px,rgb(233,245,229) 172.72px 174.07px,rgb(231,245,227) 174.77px 176.74px,rgb(233,245,229) 177.44px 178.39px,rgb(231,245,227) 179.09px 180.68px,rgb(233,245,229) 181.38px 183.23px,rgb(231,245,227) 183.93px 184.71px,rgb(233,245,229) 185.41px 185.74px,rgb(231,245,227) 186.44px 187.20px,rgb(232,245,229) 187.90px 188.65px,rgb(231,245,227) 189.35px 190.53px,rgb(233,245,229) 191.23px 192.04px,rgb(231,245,227) 192.74px 193.96px,rgb(233,245,229) 194.66px 195.24px,rgb(231,245,227) 195.94px 197.78px,rgb(233,245,229) 198.48px 199.76px,rgb(231,245,227) 200.46px 201.72px,rgb(233,245,229) 202.42px 204.25px,rgb(192,218,236) 204.95px 205.35px,rgb(198,221,238) 206.05px 207.00px,rgb(193,219,236) 207.70px 208.42px,rgb(197,221,238) 209.12px 210.09px,rgb(193,219,236) 210.79px 212.79px,rgb(197,221,237) 213.49px 214.81px,rgb(192,218,236) 215.51px 216.22px,rgb(198,222,238) 216.92px 217.42px,rgb(194,219,237) 218.12px 219.60px,rgb(196,221,237) 220.30px 221.85px)"></div>
<div class="a" style="left:574.30px;top:59.40px;width:36.70px;height:222.20px;background:linear-gradient(to bottom,rgb(254,236,184) 0.45px 0.97px,rgb(254,234,177) 1.67px 2.25px,rgb(250,169,107) 2.95px 4.25px,rgb(253,203,134) 4.95px 6.28px,rgb(253,207,145) 6.98px 8.51px,rgb(253,203,136) 9.21px 10.92px,rgb(253,207,144) 11.62px 12.06px,rgb(253,203,136) 12.76px 13.39px,rgb(253,207,144) 14.09px 15.03px,rgb(253,203,135) 15.73px 16.39px,rgb(253,207,144) 17.09px 17.25px,rgb(250,172,105) 17.95px 19.13px,rgb(250,178,115) 19.83px 21.88px,rgb(250,173,106) 22.58px 23.12px,rgb(250,178,116) 23.82px 24.72px,rgb(250,171,103) 25.42px 27.41px,rgb(250,179,117) 28.11px 29.25px,rgb(250,181,117) 29.95px 31.25px,rgb(224,63,37) 31.95px 33.31px,rgb(226,77,53) 34.01px 35.25px,rgb(245,144,91) 35.95px 36.41px,rgb(245,138,82) 37.11px 37.25px,rgb(252,182,113) 37.95px 39.81px,rgb(252,186,122) 40.51px 40.86px,rgb(252,182,115) 41.56px 43.35px,rgb(252,187,125) 44.05px 44.25px,rgb(248,157,92) 44.95px 46.70px,rgb(248,151,83) 47.40px 47.83px,rgb(248,159,97) 48.53px 50.58px,rgb(248,152,86) 51.28px 52.25px,rgb(250,166,99) 52.95px 53.28px,rgb(250,173,110) 53.98px 54.75px,rgb(250,168,101) 55.45px 56.70px,rgb(250,173,110) 57.40px 58.91px,rgb(250,166,98) 59.61px 60.33px,rgb(250,172,108) 61.03px 61.65px,rgb(250,167,100) 62.35px 63.11px,rgb(250,172,109) 63.81px 65.52px,rgb(250,167,99) 66.22px 66.94px,rgb(250,173,110) 67.64px 68.41px,rgb(250,166,98) 69.11px 70.25px,rgb(238,106,63) 70.95px 71.67px,rgb(239,116,76) 72.37px 73.26px,rgb(237,104,60) 73.96px 75.47px,rgb(238,113,71) 76.17px 77.25px,rgb(245,143,86) 77.95px 78.69px,rgb(245,134,73) 79.39px 80.44px,rgb(245,143,87) 81.14px 82.10px,rgb(245,134,73) 82.80px 85.25px,rgb(252,172,104) 85.95px 86.49px,rgb(252,177,114) 87.19px 88.90px,rgb(252,173,106) 89.60px 89.75px,rgb(245,135,75) 90.45px 91.82px,rgb(245,145,90) 92.52px 93.67px,rgb(245,136,76) 94.37px 94.70px,rgb(245,142,85) 95.40px 96.38px,rgb(245,138,79) 97.08px 99.03px,rgb(245,145,90) 99.73px 100.40px,rgb(245,135,74) 101.10px 102.25px,rgb(238,112,66) 102.95px 104.93px,rgb(239,122,79) 105.63px 106.25px,rgb(246,136,75) 106.95px 107.49px,rgb(246,145,89) 108.19px 110.08px,rgb(246,136,77) 110.78px 112.79px,rgb(246,142,85) 113.49px 114.46px,rgb(246,134,74) 115.16px 116.25px,rgb(250,156,91) 116.95px 117.58px,rgb(250,161,99) 118.28px 118.67px,rgb(250,157,92) 119.37px 120.00px,rgb(250,162,100) 120.70px 121.95px,rgb(250,155,88) 122.65px 123.97px,rgb(250,164,103) 124.67px 125.92px,rgb(250,157,91) 126.62px 127.07px,rgb(250,161,99) 127.77px 128.20px,rgb(250,154,87) 128.90px 130.57px,rgb(250,161,98) 131.27px 132.48px,rgb(250,156,89) 133.18px 134.07px,rgb(250,163,102) 134.77px 135.60px,rgb(250,156,90) 136.30px 138.36px,rgb(250,163,102) 139.06px 140.44px,rgb(250,157,92) 141.14px 142.28px,rgb(250,164,103) 142.98px 144.98px,rgb(250,155,88) 145.68px 146.02px,rgb(250,161,98) 146.72px 147.74px,rgb(250,157,92) 148.44px 149.04px,rgb(250,161,99) 149.74px 151.36px,rgb(250,157,91) 152.06px 152.40px,rgb(250,162,100) 153.10px 154.83px,rgb(250,156,90) 155.53px 157.01px,rgb(250,160,97) 157.71px 158.34px,rgb(250,157,92) 159.04px 159.89px,rgb(250,163,101) 160.59px 161.35px,rgb(250,156,90) 162.05px 163.02px,rgb(250,162,99) 163.72px 165.14px,rgb(250,155,88) 165.84px 166.78px,rgb(250,162,100) 167.48px 168.83px,rgb(250,156,90) 169.53px 170.80px,rgb(250,164,103) 171.50px 172.40px,rgb(250,154,87) 173.10px 173.82px,rgb(250,163,102) 174.52px 175.25px,rgb(239,113,63) 175.95px 177.17px,rgb(240,123,76) 177.87px 178.69px,rgb(240,117,68) 179.39px 180.99px,rgb(240,123,76) 181.69px 183.25px,rgb(245,142,85) 183.95px 184.76px,rgb(245,137,77) 185.46px 187.00px,rgb(245,144,88) 187.70px 189.01px,rgb(245,136,76) 189.71px 190.25px,rgb(248,147,83) 190.95px 191.25px,rgb(248,154,94) 191.95px 192.74px,rgb(248,147,83) 193.44px 194.87px,rgb(248,153,93) 195.57px 196.04px,rgb(248,146,82) 196.74px 197.90px,rgb(248,153,92) 198.60px 200.65px,rgb(248,148,85) 201.35px 202.45px,rgb(248,152,92) 203.15px 204.89px,rgb(248,145,81) 205.59px 207.38px,rgb(248,155,96) 208.08px 208.25px,rgb(239,110,72) 208.95px 210.02px,rgb(237,100,59) 210.72px 212.72px,rgb(238,109,70) 213.42px 214.59px,rgb(237,100,59) 215.29px 217.10px,rgb(238,108,69) 217.80px 218.72px,rgb(237,98,57) 219.42px 220.11px,rgb(239,112,74) 220.81px 221.85px)"></div>
<div class="a t" style="left:614.00px;top:49.5px">BM cohort:</div>
<div class="a sq" style="left:614.00px;top:60.40px;background:#ED1C24"></div>
<div class="a it" style="left:629.20px;top:62.80px">Ctrl (n=2)</div>
<div class="a sq" style="left:614.00px;top:74.35px;background:#22B14C"></div>
<div class="a it" style="left:629.20px;top:76.75px">CP−CML (n=11)</div>
<div class="a sq" style="left:614.00px;top:88.30px;background:#00A2E8"></div>
<div class="a it" style="left:629.20px;top:90.70px">BC−CML (n=5)</div>
<div class="a g" style="left:616.50px;top:192.20px">292 genes</div>
<div class="a cb" style="left:501.80px;top:286.4px;width:109.20px"></div>
<div class="a sl" style="left:501.80px;top:298.5px">low</div>
<div class="a sl" style="left:591.00px;top:298.5px;width:20px;text-align:right">high</div>
<div class="a sl" style="left:527.40px;top:308.5px;width:60px;text-align:center">Methylation</div>
<svg class="a" style="left:0;top:0" width="685" height="319" viewBox="0 0 685 319">
<path d="M78.90 30.10L78.90 5.30L134.40 5.30L134.40 49.40 M60.30 49.40L60.30 30.10L97.60 30.10L97.60 49.40 M306.60 31.40L306.60 15.40L362.40 15.40L362.40 49.40 M288.30 49.40L288.30 31.40L325.40 31.40L325.40 49.40 M538.10 36.70L538.10 15.40L593.20 15.40L593.20 49.40 M520.10 49.40L520.10 36.70L556.00 36.70L556.00 49.40" fill="none" stroke="#3a3a3a" stroke-width="0.9"/>
<path d="M2.20 116.00L2.20 276.79 M2.20 116.00L17.40 116.00 M17.40 79.80L17.40 152.21 M17.40 79.80L24.40 79.80 M24.40 72.82L24.40 86.77 M24.40 72.82L30.50 72.82 M30.50 67.22L30.50 78.43 M30.50 67.22L35.20 67.22 M35.20 63.53L35.20 70.90 M35.20 63.53L38.50 63.53 M38.50 61.91L38.50 65.16 M38.50 61.91L39.92 61.91 M39.92 60.89L39.92 62.92 M39.92 60.89L40.37 60.89 M40.37 60.33L40.37 61.46 M40.37 60.33L42.30 60.33 M40.37 61.46L40.73 61.46 M40.73 60.98L40.73 61.95 M40.73 60.98L42.30 60.98 M40.73 61.95L41.01 61.95 M41.01 61.62L41.01 62.27 M41.01 61.62L42.30 61.62 M41.01 62.27L42.30 62.27 M39.92 62.92L42.30 62.92 M38.50 65.16L38.89 65.16 M38.89 64.14L38.89 66.17 M38.89 64.14L40.42 64.14 M40.42 63.58L40.42 64.71 M40.42 63.58L42.30 63.58 M40.42 64.71L40.70 64.71 M40.70 64.22L40.70 65.20 M40.70 64.22L42.30 64.22 M40.70 65.20L40.84 65.20 M40.84 64.88L40.84 65.53 M40.84 64.88L42.30 64.88 M40.84 65.53L42.30 65.53 M38.89 66.17L42.30 66.17 M35.20 70.90L39.00 70.90 M39.00 67.59L39.00 74.21 M39.00 67.59L39.87 67.59 M39.87 66.82L39.87 68.36 M39.87 66.82L42.30 66.82 M39.87 68.36L40.11 68.36 M40.11 67.45L40.11 69.27 M40.11 67.45L42.30 67.45 M40.11 69.27L40.29 69.27 M40.29 68.56L40.29 69.98 M40.29 68.56L40.39 68.56 M40.39 68.08L40.39 69.03 M40.39 68.08L42.30 68.08 M40.39 69.03L40.74 69.03 M40.74 68.72L40.74 69.35 M40.74 68.72L42.30 68.72 M40.74 69.35L42.30 69.35 M40.29 69.98L42.30 69.98 M39.00 74.21L39.39 74.21 M39.39 72.73L39.39 75.68 M39.39 72.73L39.68 72.73 M39.68 71.09L39.68 74.38 M39.68 71.09L39.94 71.09 M39.94 70.62L39.94 71.57 M39.94 70.62L42.30 70.62 M39.94 71.57L40.04 71.57 M40.04 71.25L40.04 71.88 M40.04 71.25L42.30 71.25 M40.04 71.88L42.30 71.88 M39.68 74.38L40.12 74.38 M40.12 73.70L40.12 75.05 M40.12 73.70L40.45 73.70 M40.45 72.99L40.45 74.42 M40.45 72.99L40.76 72.99 M40.76 72.52L40.76 73.47 M40.76 72.52L42.30 72.52 M40.76 73.47L41.04 73.47 M41.04 73.15L41.04 73.78 M41.04 73.15L42.30 73.15 M41.04 73.78L42.30 73.78 M40.45 74.42L42.30 74.42 M40.12 75.05L42.30 75.05 M39.39 75.68L42.30 75.68 M30.50 78.43L34.80 78.43 M34.80 77.45L34.80 79.40 M34.80 77.45L38.82 77.45 M38.82 76.76L38.82 78.14 M38.82 76.76L39.35 76.76 M39.35 76.31L39.35 77.22 M39.35 76.31L42.30 76.31 M39.35 77.22L40.59 77.22 M40.59 76.92L40.59 77.53 M40.59 76.92L42.30 76.92 M40.59 77.53L42.30 77.53 M38.82 78.14L42.30 78.14 M34.80 79.40L39.92 79.40 M39.92 78.75L39.92 80.05 M39.92 78.75L42.30 78.75 M39.92 80.05L40.15 80.05 M40.15 79.36L40.15 80.74 M40.15 79.36L42.30 79.36 M40.15 80.74L40.45 80.74 M40.45 80.28L40.45 81.19 M40.45 80.28L40.66 80.28 M40.66 79.97L40.66 80.58 M40.66 79.97L42.30 79.97 M40.66 80.58L42.30 80.58 M40.45 81.19L42.30 81.19 M24.40 86.77L28.60 86.77 M28.60 84.12L28.60 89.42 M28.60 84.12L33.00 84.12 M33.00 83.10L33.00 85.13 M33.00 83.10L38.76 83.10 M38.76 82.57L38.76 83.64 M38.76 82.57L40.15 82.57 M40.15 82.11L40.15 83.03 M40.15 82.11L41.04 82.11 M41.04 81.81L41.04 82.42 M41.04 81.81L42.30 81.81 M41.04 82.42L42.30 82.42 M40.15 83.03L42.30 83.03 M38.76 83.64L42.30 83.64 M33.00 85.13L39.50 85.13 M39.50 84.25L39.50 86.01 M39.50 84.25L42.30 84.25 M39.50 86.01L40.31 86.01 M40.31 85.32L40.31 86.69 M40.31 85.32L40.66 85.32 M40.66 84.86L40.66 85.78 M40.66 84.86L42.30 84.86 M40.66 85.78L40.95 85.78 M40.95 85.47L40.95 86.08 M40.95 85.47L42.30 85.47 M40.95 86.08L42.30 86.08 M40.31 86.69L42.30 86.69 M28.60 89.42L33.50 89.42 M33.50 87.86L33.50 90.98 M33.50 87.86L39.57 87.86 M39.57 87.31L39.57 88.41 M39.57 87.31L42.30 87.31 M39.57 88.41L40.36 88.41 M40.36 87.94L40.36 88.88 M40.36 87.94L42.30 87.94 M40.36 88.88L40.57 88.88 M40.57 88.56L40.57 89.19 M40.57 88.56L42.30 88.56 M40.57 89.19L42.30 89.19 M33.50 90.98L40.46 90.98 M40.46 90.28L40.46 91.69 M40.46 90.28L40.74 90.28 M40.74 89.81L40.74 90.75 M40.74 89.81L42.30 89.81 M40.74 90.75L40.91 90.75 M40.91 90.44L40.91 91.06 M40.91 90.44L42.30 90.44 M40.91 91.06L42.30 91.06 M40.46 91.69L42.30 91.69 M17.40 152.21L20.60 152.21 M20.60 96.71L20.60 207.71 M20.60 96.71L26.30 96.71 M26.30 94.67L26.30 98.75 M26.30 94.67L33.80 94.67 M33.80 93.60L33.80 95.74 M33.80 93.60L38.93 93.60 M38.93 93.07L38.93 94.14 M38.93 93.07L39.46 93.07 M39.46 92.61L39.46 93.53 M39.46 92.61L40.66 92.61 M40.66 92.31L40.66 92.92 M40.66 92.31L42.30 92.31 M40.66 92.92L42.30 92.92 M39.46 93.53L42.30 93.53 M38.93 94.14L42.30 94.14 M33.80 95.74L39.68 95.74 M39.68 95.06L39.68 96.43 M39.68 95.06L39.92 95.06 M39.92 94.75L39.92 95.36 M39.92 94.75L42.30 94.75 M39.92 95.36L42.30 95.36 M39.68 96.43L40.43 96.43 M40.43 95.97L40.43 96.89 M40.43 95.97L42.30 95.97 M40.43 96.89L40.52 96.89 M40.52 96.58L40.52 97.19 M40.52 96.58L42.30 96.58 M40.52 97.19L42.30 97.19 M26.30 98.75L31.50 98.75 M31.50 98.12L31.50 99.38 M31.50 98.12L40.09 98.12 M40.09 97.81L40.09 98.44 M40.09 97.81L42.30 97.81 M40.09 98.44L42.30 98.44 M31.50 99.38L40.12 99.38 M40.12 99.06L40.12 99.69 M40.12 99.06L42.30 99.06 M40.12 99.69L42.30 99.69 M20.60 207.71L21.40 207.71 M21.40 147.64L21.40 267.77 M21.40 147.64L26.80 147.64 M26.80 108.96L26.80 186.33 M26.80 108.96L31.00 108.96 M31.00 105.19L31.00 112.72 M31.00 105.19L36.60 105.19 M36.60 102.33L36.60 108.06 M36.60 102.33L38.61 102.33 M38.61 101.04L38.61 103.62 M38.61 101.04L39.73 101.04 M39.73 100.32L39.73 101.77 M39.73 100.32L42.30 100.32 M39.73 101.77L40.58 101.77 M40.58 101.29L40.58 102.25 M40.58 101.29L40.93 101.29 M40.93 100.96L40.93 101.61 M40.93 100.96L42.30 100.96 M40.93 101.61L42.30 101.61 M40.58 102.25L42.30 102.25 M38.61 103.62L39.83 103.62 M39.83 102.89L39.83 104.34 M39.83 102.89L42.30 102.89 M39.83 104.34L40.05 104.34 M40.05 103.86L40.05 104.82 M40.05 103.86L40.56 103.86 M40.56 103.54L40.56 104.18 M40.56 103.54L42.30 103.54 M40.56 104.18L42.30 104.18 M40.05 104.82L42.30 104.82 M36.60 108.06L39.39 108.06 M39.39 107.43L39.39 108.68 M39.39 107.43L39.77 107.43 M39.77 106.83L39.77 108.04 M39.77 106.83L40.08 106.83 M40.08 106.27L40.08 107.39 M40.08 106.27L40.17 106.27 M40.17 105.79L40.17 106.75 M40.17 105.79L40.59 105.79 M40.59 105.46L40.59 106.11 M40.59 105.46L42.30 105.46 M40.59 106.11L42.30 106.11 M40.17 106.75L42.30 106.75 M40.08 107.39L42.30 107.39 M39.77 108.04L42.30 108.04 M39.39 108.68L42.30 108.68 M31.00 112.72L36.00 112.72 M36.00 110.67L36.00 114.77 M36.00 110.67L38.96 110.67 M38.96 110.11L38.96 111.23 M38.96 110.11L39.88 110.11 M39.88 109.64L39.88 110.59 M39.88 109.64L40.32 109.64 M40.32 109.32L40.32 109.95 M40.32 109.32L42.30 109.32 M40.32 109.95L42.30 109.95 M39.88 110.59L42.30 110.59 M38.96 111.23L42.30 111.23 M36.00 114.77L39.04 114.77 M39.04 113.85L39.04 115.68 M39.04 113.85L39.19 113.85 M39.19 112.66L39.19 115.05 M39.19 112.66L39.54 112.66 M39.54 111.86L39.54 113.45 M39.54 111.86L42.30 111.86 M39.54 113.45L39.87 113.45 M39.87 112.82L39.87 114.09 M39.87 112.82L40.00 112.82 M40.00 112.50L40.00 113.14 M40.00 112.50L42.30 112.50 M40.00 113.14L42.30 113.14 M39.87 114.09L40.01 114.09 M40.01 113.77L40.01 114.41 M40.01 113.77L42.30 113.77 M40.01 114.41L42.30 114.41 M39.19 115.05L42.30 115.05 M39.04 115.68L42.30 115.68 M26.80 186.33L29.60 186.33 M29.60 143.02L29.60 229.63 M29.60 143.02L32.60 143.02 M32.60 127.59L32.60 158.46 M32.60 127.59L35.20 127.59 M35.20 124.54L35.20 130.64 M35.20 124.54L38.38 124.54 M38.38 122.99L38.38 126.10 M38.38 122.99L38.57 122.99 M38.57 120.70L38.57 125.29 M38.57 120.70L39.22 120.70 M39.22 117.32L39.22 124.08 M39.22 117.32L39.34 117.32 M39.34 116.40L39.34 118.23 M39.34 116.40L42.30 116.40 M39.34 118.23L39.51 118.23 M39.51 117.21L39.51 119.24 M39.51 117.21L42.30 117.21 M39.51 119.24L39.91 119.24 M39.91 118.02L39.91 120.47 M39.91 118.02L42.30 118.02 M39.91 120.47L40.38 120.47 M40.38 118.83L40.38 122.11 M40.38 118.83L42.30 118.83 M40.38 122.11L40.66 122.11 M40.66 121.35L40.66 122.87 M40.66 121.35L40.71 121.35 M40.71 120.64L40.71 122.06 M40.71 120.64L40.96 120.64 M40.96 120.04L40.96 121.25 M40.96 120.04L41.19 120.04 M41.19 119.63L41.19 120.44 M41.19 119.63L42.30 119.63 M41.19 120.44L42.30 120.44 M40.96 121.25L42.30 121.25 M40.71 122.06L42.30 122.06 M40.66 122.87L42.30 122.87 M39.22 124.08L40.07 124.08 M40.07 123.67L40.07 124.48 M40.07 123.67L42.30 123.67 M40.07 124.48L42.30 124.48 M38.57 125.29L42.30 125.29 M38.38 126.10L42.30 126.10 M35.20 130.64L36.42 130.64 M36.42 126.90L36.42 134.37 M36.42 126.90L42.30 126.90 M36.42 134.37L37.17 134.37 M37.17 132.15L37.17 136.60 M37.17 132.15L37.50 132.15 M37.50 128.52L37.50 135.79 M37.50 128.52L38.97 128.52 M38.97 127.71L38.97 129.32 M38.97 127.71L42.30 127.71 M38.97 129.32L39.11 129.32 M39.11 128.52L39.11 130.13 M39.11 128.52L42.30 128.52 M39.11 130.13L39.62 130.13 M39.62 129.33L39.62 130.93 M39.62 129.33L42.30 129.33 M39.62 130.93L40.06 130.93 M40.06 130.13L40.06 131.72 M40.06 130.13L42.30 130.13 M40.06 131.72L40.40 131.72 M40.40 130.94L40.40 132.51 M40.40 130.94L42.30 130.94 M40.40 132.51L40.78 132.51 M40.78 131.75L40.78 133.26 M40.78 131.75L42.30 131.75 M40.78 133.26L40.94 133.26 M40.94 132.56L40.94 133.97 M40.94 132.56L42.30 132.56 M40.94 133.97L41.19 133.97 M41.19 133.37L41.19 134.58 M41.19 133.37L42.30 133.37 M41.19 134.58L41.25 134.58 M41.25 134.17L41.25 134.98 M41.25 134.17L42.30 134.17 M41.25 134.98L42.30 134.98 M37.50 135.79L42.30 135.79 M37.17 136.60L42.30 136.60 M32.60 158.46L35.20 158.46 M35.20 148.38L35.20 168.53 M35.20 148.38L37.10 148.38 M37.10 141.69L37.10 155.06 M37.10 141.69L37.84 141.69 M37.84 138.68L37.84 144.70 M37.84 138.68L38.42 138.68 M38.42 137.46L38.42 139.91 M38.42 137.46L42.30 137.46 M38.42 139.91L39.69 139.91 M39.69 138.83L39.69 140.99 M39.69 138.83L40.91 138.83 M40.91 138.37L40.91 139.28 M40.91 138.37L42.30 138.37 M40.91 139.28L42.30 139.28 M39.69 140.99L40.09 140.99 M40.09 140.20L40.09 141.79 M40.09 140.20L42.30 140.20 M40.09 141.79L40.47 141.79 M40.47 141.11L40.47 142.48 M40.47 141.11L42.30 141.11 M40.47 142.48L40.54 142.48 M40.54 142.02L40.54 142.93 M40.54 142.02L42.30 142.02 M40.54 142.93L42.30 142.93 M37.84 144.70L38.49 144.70 M38.49 143.85L38.49 145.56 M38.49 143.85L42.30 143.85 M38.49 145.56L39.77 145.56 M39.77 144.76L39.77 146.36 M39.77 144.76L42.30 144.76 M39.77 146.36L40.27 146.36 M40.27 145.67L40.27 147.04 M40.27 145.67L42.30 145.67 M40.27 147.04L40.66 147.04 M40.66 146.59L40.66 147.50 M40.66 146.59L42.30 146.59 M40.66 147.50L42.30 147.50 M37.10 155.06L38.18 155.06 M38.18 152.58L38.18 157.54 M38.18 152.58L38.51 152.58 M38.51 150.35L38.51 154.80 M38.51 150.35L39.87 150.35 M39.87 149.55L39.87 151.15 M39.87 149.55L40.34 149.55 M40.34 148.87L40.34 150.24 M40.34 148.87L40.49 148.87 M40.49 148.41L40.49 149.33 M40.49 148.41L42.30 148.41 M40.49 149.33L42.30 149.33 M40.34 150.24L42.30 150.24 M39.87 151.15L42.30 151.15 M38.51 154.80L38.94 154.80 M38.94 153.43L38.94 156.17 M38.94 153.43L39.28 153.43 M39.28 152.52L39.28 154.35 M39.28 152.52L40.23 152.52 M40.23 152.07L40.23 152.98 M40.23 152.07L42.30 152.07 M40.23 152.98L42.30 152.98 M39.28 154.35L40.66 154.35 M40.66 153.89L40.66 154.80 M40.66 153.89L42.30 153.89 M40.66 154.80L42.30 154.80 M38.94 156.17L40.31 156.17 M40.31 155.72L40.31 156.63 M40.31 155.72L42.30 155.72 M40.31 156.63L42.30 156.63 M38.18 157.54L42.30 157.54 M35.20 168.53L37.00 168.53 M37.00 164.56L37.00 172.50 M37.00 164.56L37.39 164.56 M37.39 161.62L37.39 167.50 M37.39 161.62L38.31 161.62 M38.31 159.25L38.31 164.00 M38.31 159.25L40.67 159.25 M40.67 158.50L40.67 160.00 M40.67 158.50L42.30 158.50 M40.67 160.00L40.73 160.00 M40.73 159.50L40.73 160.50 M40.73 159.50L42.30 159.50 M40.73 160.50L42.30 160.50 M38.31 164.00L38.83 164.00 M38.83 162.25L38.83 165.75 M38.83 162.25L39.74 162.25 M39.74 161.50L39.74 163.00 M39.74 161.50L42.30 161.50 M39.74 163.00L40.17 163.00 M40.17 162.50L40.17 163.50 M40.17 162.50L42.30 162.50 M40.17 163.50L42.30 163.50 M38.83 165.75L40.69 165.75 M40.69 165.00L40.69 166.50 M40.69 165.00L40.93 165.00 M40.93 164.50L40.93 165.50 M40.93 164.50L42.30 164.50 M40.93 165.50L42.30 165.50 M40.69 166.50L42.30 166.50 M37.39 167.50L42.30 167.50 M37.00 172.50L37.95 172.50 M37.95 169.38L37.95 175.63 M37.95 169.38L38.61 169.38 M38.61 168.50L38.61 170.25 M38.61 168.50L42.30 168.50 M38.61 170.25L39.45 170.25 M39.45 169.50L39.45 171.00 M39.45 169.50L42.30 169.50 M39.45 171.00L40.85 171.00 M40.85 170.50L40.85 171.50 M40.85 170.50L42.30 170.50 M40.85 171.50L42.30 171.50 M37.95 175.63L38.72 175.63 M38.72 173.75L38.72 177.52 M38.72 173.75L39.45 173.75 M39.45 173.00L39.45 174.50 M39.45 173.00L40.82 173.00 M40.82 172.50L40.82 173.50 M40.82 172.50L42.30 172.50 M40.82 173.50L42.30 173.50 M39.45 174.50L42.30 174.50 M38.72 177.52L39.78 177.52 M39.78 175.50L39.78 179.53 M39.78 175.50L42.30 175.50 M39.78 179.53L40.14 179.53 M40.14 177.56L40.14 181.50 M40.14 177.56L40.30 177.56 M40.30 176.50L40.30 178.62 M40.30 176.50L42.30 176.50 M40.30 178.62L40.45 178.62 M40.45 177.50L40.45 179.75 M40.45 177.50L42.30 177.50 M40.45 179.75L40.70 179.75 M40.70 179.00L40.70 180.50 M40.70 179.00L40.90 179.00 M40.90 178.50L40.90 179.50 M40.90 178.50L42.30 178.50 M40.90 179.50L42.30 179.50 M40.70 180.50L42.30 180.50 M40.14 181.50L42.30 181.50 M29.60 229.63L32.40 229.63 M32.40 207.74L32.40 251.52 M32.40 207.74L38.50 207.74 M38.50 191.91L38.50 223.57 M38.50 191.91L39.08 191.91 M39.08 184.61L39.08 199.22 M39.08 184.61L39.44 184.61 M39.44 182.55L39.44 186.67 M39.44 182.55L42.30 182.55 M39.44 186.67L39.58 186.67 M39.58 185.02L39.58 188.31 M39.58 185.02L39.69 185.02 M39.69 184.20L39.69 185.84 M39.69 184.20L41.05 184.20 M41.05 183.65L41.05 184.75 M41.05 183.65L42.30 183.65 M41.05 184.75L42.30 184.75 M39.69 185.84L42.30 185.84 M39.58 188.31L39.99 188.31 M39.99 187.49L39.99 189.14 M39.99 187.49L40.95 187.49 M40.95 186.94L40.95 188.04 M40.95 186.94L42.30 186.94 M40.95 188.04L42.30 188.04 M39.99 189.14L42.30 189.14 M39.08 199.22L39.19 199.22 M39.19 193.93L39.19 204.51 M39.19 193.93L39.51 193.93 M39.51 190.24L39.51 197.63 M39.51 190.24L42.30 190.24 M39.51 197.63L39.97 197.63 M39.97 193.80L39.97 201.46 M39.97 193.80L40.08 193.80 M40.08 192.16L40.08 195.45 M40.08 192.16L40.56 192.16 M40.56 191.33L40.56 192.98 M40.56 191.33L42.30 191.33 M40.56 192.98L41.00 192.98 M41.00 192.43L41.00 193.53 M41.00 192.43L42.30 192.43 M41.00 193.53L42.30 193.53 M40.08 195.45L40.24 195.45 M40.24 194.63L40.24 196.27 M40.24 194.63L42.30 194.63 M40.24 196.27L40.52 196.27 M40.52 195.73L40.52 196.82 M40.52 195.73L42.30 195.73 M40.52 196.82L42.30 196.82 M39.97 201.46L40.05 201.46 M40.05 199.50L40.05 203.41 M40.05 199.50L40.17 199.50 M40.17 197.92L40.17 201.08 M40.17 197.92L42.30 197.92 M40.17 201.08L40.45 201.08 M40.45 199.84L40.45 202.31 M40.45 199.84L40.55 199.84 M40.55 199.02L40.55 200.67 M40.55 199.02L42.30 199.02 M40.55 200.67L40.63 200.67 M40.63 200.12L40.63 201.22 M40.63 200.12L42.30 200.12 M40.63 201.22L42.30 201.22 M40.45 202.31L42.30 202.31 M40.05 203.41L42.30 203.41 M39.19 204.51L42.30 204.51 M38.50 223.57L39.01 223.57 M39.01 213.79L39.01 233.35 M39.01 213.79L39.12 213.79 M39.12 205.61L39.12 221.97 M39.12 205.61L42.30 205.61 M39.12 221.97L39.47 221.97 M39.47 216.37L39.47 227.57 M39.47 216.37L39.73 216.37 M39.73 209.47L39.73 223.27 M39.73 209.47L40.23 209.47 M40.23 207.53L40.23 211.41 M40.23 207.53L40.41 207.53 M40.41 206.71L40.41 208.35 M40.41 206.71L42.30 206.71 M40.41 208.35L40.80 208.35 M40.80 207.80L40.80 208.90 M40.80 207.80L42.30 207.80 M40.80 208.90L42.30 208.90 M40.23 211.41L40.46 211.41 M40.46 210.00L40.46 212.81 M40.46 210.00L42.30 210.00 M40.46 212.81L40.64 212.81 M40.64 211.10L40.64 214.53 M40.64 211.10L42.30 211.10 M40.64 214.53L40.70 214.53 M40.70 213.57L40.70 215.49 M40.70 213.57L40.95 213.57 M40.95 212.75L40.95 214.39 M40.95 212.75L41.15 212.75 M41.15 212.20L41.15 213.29 M41.15 212.20L42.30 212.20 M41.15 213.29L42.30 213.29 M40.95 214.39L42.30 214.39 M40.70 215.49L42.30 215.49 M39.73 223.27L40.06 223.27 M40.06 220.06L40.06 226.47 M40.06 220.06L40.42 220.06 M40.42 216.59L40.42 223.54 M40.42 216.59L42.30 216.59 M40.42 223.54L40.58 223.54 M40.58 221.70L40.58 225.37 M40.58 221.70L40.78 221.70 M40.78 219.13L40.78 224.27 M40.78 219.13L40.87 219.13 M40.87 217.69L40.87 220.57 M40.87 217.69L42.30 217.69 M40.87 220.57L41.08 220.57 M41.08 219.33L41.08 221.80 M41.08 219.33L41.28 219.33 M41.28 218.78L41.28 219.88 M41.28 218.78L42.30 218.78 M41.28 219.88L42.30 219.88 M41.08 221.80L41.30 221.80 M41.30 220.98L41.30 222.63 M41.30 220.98L42.30 220.98 M41.30 222.63L41.47 222.63 M41.47 222.08L41.47 223.18 M41.47 222.08L42.30 222.08 M41.47 223.18L42.30 223.18 M40.78 224.27L42.30 224.27 M40.58 225.37L42.30 225.37 M40.06 226.47L42.30 226.47 M39.47 227.57L42.30 227.57 M39.01 233.35L39.16 233.35 M39.16 230.62L39.16 236.08 M39.16 230.62L39.29 230.62 M39.29 228.67L39.29 232.58 M39.29 228.67L42.30 228.67 M39.29 232.58L39.51 232.58 M39.51 231.00L39.51 234.16 M39.51 231.00L39.89 231.00 M39.89 229.76L39.89 232.24 M39.89 229.76L42.30 229.76 M39.89 232.24L40.79 232.24 M40.79 231.41L40.79 233.06 M40.79 231.41L40.96 231.41 M40.96 230.86L40.96 231.96 M40.96 230.86L42.30 230.86 M40.96 231.96L42.30 231.96 M40.79 233.06L42.30 233.06 M39.51 234.16L42.30 234.16 M39.16 236.08L39.45 236.08 M39.45 235.25L39.45 236.90 M39.45 235.25L42.30 235.25 M39.45 236.90L40.51 236.90 M40.51 236.35L40.51 237.45 M40.51 236.35L42.30 236.35 M40.51 237.45L42.30 237.45 M32.40 251.52L34.30 251.52 M34.30 244.57L34.30 258.46 M34.30 244.57L36.20 244.57 M36.20 242.38L36.20 246.76 M36.20 242.38L37.39 242.38 M37.39 240.19L37.39 244.56 M37.39 240.19L38.34 240.19 M38.34 238.44L38.34 241.94 M38.34 238.44L42.30 238.44 M38.34 241.94L38.96 241.94 M38.96 240.62L38.96 243.25 M38.96 240.62L39.85 240.62 M39.85 239.75L39.85 241.50 M39.85 239.75L40.78 239.75 M40.78 239.31L40.78 240.19 M40.78 239.31L42.30 239.31 M40.78 240.19L42.30 240.19 M39.85 241.50L41.11 241.50 M41.11 241.06L41.11 241.94 M41.11 241.06L42.30 241.06 M41.11 241.94L42.30 241.94 M38.96 243.25L39.91 243.25 M39.91 242.81L39.91 243.69 M39.91 242.81L42.30 242.81 M39.91 243.69L42.30 243.69 M37.39 244.56L42.30 244.56 M36.20 246.76L36.77 246.76 M36.77 245.44L36.77 248.09 M36.77 245.44L42.30 245.44 M36.77 248.09L38.63 248.09 M38.63 246.75L38.63 249.43 M38.63 246.75L40.09 246.75 M40.09 246.31L40.09 247.19 M40.09 246.31L42.30 246.31 M40.09 247.19L42.30 247.19 M38.63 249.43L39.16 249.43 M39.16 248.06L39.16 250.80 M39.16 248.06L42.30 248.06 M39.16 250.80L39.74 250.80 M39.74 250.03L39.74 251.56 M39.74 250.03L40.39 250.03 M40.39 249.38L40.39 250.69 M40.39 249.38L40.70 249.38 M40.70 248.94L40.70 249.81 M40.70 248.94L42.30 248.94 M40.70 249.81L42.30 249.81 M40.39 250.69L42.30 250.69 M39.74 251.56L42.30 251.56 M34.30 258.46L36.20 258.46 M36.20 256.04L36.20 260.88 M36.20 256.04L39.81 256.04 M39.81 255.00L39.81 257.08 M39.81 255.00L40.21 255.00 M40.21 253.85L40.21 256.15 M40.21 253.85L40.36 253.85 M40.36 252.92L40.36 254.77 M40.36 252.92L40.96 252.92 M40.96 252.46L40.96 253.38 M40.96 252.46L42.30 252.46 M40.96 253.38L42.30 253.38 M40.36 254.77L40.64 254.77 M40.64 254.31L40.64 255.23 M40.64 254.31L42.30 254.31 M40.64 255.23L42.30 255.23 M40.21 256.15L42.30 256.15 M39.81 257.08L42.30 257.08 M36.20 260.88L39.13 260.88 M39.13 259.38L39.13 262.38 M39.13 259.38L39.87 259.38 M39.87 258.46L39.87 260.31 M39.87 258.46L40.82 258.46 M40.82 258.00L40.82 258.92 M40.82 258.00L42.30 258.00 M40.82 258.92L42.30 258.92 M39.87 260.31L40.99 260.31 M40.99 259.85L40.99 260.77 M40.99 259.85L42.30 259.85 M40.99 260.77L42.30 260.77 M39.13 262.38L39.74 262.38 M39.74 261.69L39.74 263.08 M39.74 261.69L42.30 261.69 M39.74 263.08L40.87 263.08 M40.87 262.62L40.87 263.54 M40.87 262.62L42.30 262.62 M40.87 263.54L42.30 263.54 M21.40 267.77L25.40 267.77 M25.40 266.00L25.40 269.54 M25.40 266.00L30.00 266.00 M30.00 265.17L30.00 266.83 M30.00 265.17L39.38 265.17 M39.38 264.67L39.38 265.67 M39.38 264.67L39.91 264.67 M39.91 264.33L39.91 265.00 M39.91 264.33L42.30 264.33 M39.91 265.00L42.30 265.00 M39.38 265.67L42.30 265.67 M30.00 266.83L40.44 266.83 M40.44 266.33L40.44 267.33 M40.44 266.33L42.30 266.33 M40.44 267.33L40.79 267.33 M40.79 267.00L40.79 267.67 M40.79 267.00L42.30 267.00 M40.79 267.67L42.30 267.67 M25.40 269.54L31.00 269.54 M31.00 268.67L31.00 270.42 M31.00 268.67L40.70 268.67 M40.70 268.33L40.70 269.00 M40.70 268.33L42.30 268.33 M40.70 269.00L42.30 269.00 M31.00 270.42L40.11 270.42 M40.11 269.67L40.11 271.17 M40.11 269.67L42.30 269.67 M40.11 271.17L40.63 271.17 M40.63 270.67L40.63 271.67 M40.63 270.67L41.00 270.67 M41.00 270.33L41.00 271.00 M41.00 270.33L42.30 270.33 M41.00 271.00L42.30 271.00 M40.63 271.67L42.30 271.67 M2.20 276.79L6.60 276.79 M6.60 274.81L6.60 278.77 M6.60 274.81L31.00 274.81 M31.00 273.64L31.00 275.98 M31.00 273.64L39.91 273.64 M39.91 273.09L39.91 274.19 M39.91 273.09L40.22 273.09 M40.22 272.62L40.22 273.56 M40.22 272.62L40.65 272.62 M40.65 272.31L40.65 272.94 M40.65 272.31L42.30 272.31 M40.65 272.94L42.30 272.94 M40.22 273.56L42.30 273.56 M39.91 274.19L42.30 274.19 M31.00 275.98L40.50 275.98 M40.50 275.28L40.50 276.69 M40.50 275.28L40.59 275.28 M40.59 274.81L40.59 275.75 M40.59 274.81L42.30 274.81 M40.59 275.75L41.10 275.75 M41.10 275.44L41.10 276.06 M41.10 275.44L42.30 275.44 M41.10 276.06L42.30 276.06 M40.50 276.69L42.30 276.69 M6.60 278.77L26.30 278.77 M26.30 277.79L26.30 279.75 M26.30 277.79L39.78 277.79 M39.78 277.31L39.78 278.26 M39.78 277.31L42.30 277.31 M39.78 278.26L40.75 278.26 M40.75 277.94L40.75 278.57 M40.75 277.94L42.30 277.94 M40.75 278.57L42.30 278.57 M26.30 279.75L39.56 279.75 M39.56 279.20L39.56 280.30 M39.56 279.20L42.30 279.20 M39.56 280.30L40.59 280.30 M40.59 279.83L40.59 280.77 M40.59 279.83L42.30 279.83 M40.59 280.77L41.05 280.77 M41.05 280.46L41.05 281.09 M41.05 280.46L42.30 280.46 M41.05 281.09L42.30 281.09" fill="none" stroke="#2a2a2a" stroke-width="0.7"/>
<path d="M238.10 62.55L238.10 116.25 M238.10 62.55L254.30 62.55 M254.30 61.08L254.30 64.03 M254.30 61.08L267.96 61.08 M267.96 60.34L267.96 61.81 M267.96 60.34L270.20 60.34 M267.96 61.81L270.20 61.81 M254.30 64.03L268.50 64.03 M268.50 63.29L268.50 64.76 M268.50 63.29L270.20 63.29 M268.50 64.76L270.20 64.76 M238.10 116.25L245.60 116.25 M245.60 82.28L245.60 150.23 M245.60 82.28L252.60 82.28 M252.60 71.86L252.60 92.69 M252.60 71.86L259.30 71.86 M259.30 66.50L259.30 77.22 M259.30 66.50L268.00 66.50 M268.00 66.00L268.00 67.00 M268.00 66.00L270.20 66.00 M268.00 67.00L270.20 67.00 M259.30 77.22L264.90 77.22 M264.90 74.61L264.90 79.83 M264.90 74.61L266.96 74.61 M266.96 72.97L266.96 76.25 M266.96 72.97L267.59 72.97 M267.59 71.28L267.59 74.66 M267.59 71.28L268.33 71.28 M268.33 69.49L268.33 73.07 M268.33 69.49L268.51 69.49 M268.51 68.30L268.51 70.68 M268.51 68.30L270.20 68.30 M268.51 70.68L268.72 70.68 M268.72 69.89L268.72 71.48 M268.72 69.89L270.20 69.89 M268.72 71.48L270.20 71.48 M268.33 73.07L270.20 73.07 M267.59 74.66L270.20 74.66 M266.96 76.25L270.20 76.25 M264.90 79.83L267.18 79.83 M267.18 77.84L267.18 81.82 M267.18 77.84L270.20 77.84 M267.18 81.82L267.95 81.82 M267.95 80.23L267.95 83.41 M267.95 80.23L268.79 80.23 M268.79 79.43L268.79 81.02 M268.79 79.43L270.20 79.43 M268.79 81.02L270.20 81.02 M267.95 83.41L268.47 83.41 M268.47 82.61L268.47 84.20 M268.47 82.61L270.20 82.61 M268.47 84.20L270.20 84.20 M252.60 92.69L257.90 92.69 M257.90 88.00L257.90 97.38 M257.90 88.00L263.50 88.00 M263.50 86.50L263.50 89.50 M263.50 86.50L268.20 86.50 M268.20 85.75L268.20 87.25 M268.20 85.75L270.20 85.75 M268.20 87.25L270.20 87.25 M263.50 89.50L268.36 89.50 M268.36 88.75L268.36 90.25 M268.36 88.75L270.20 88.75 M268.36 90.25L270.20 90.25 M257.90 97.38L261.40 97.38 M261.40 94.73L261.40 100.04 M261.40 94.73L268.14 94.73 M268.14 92.96L268.14 96.50 M268.14 92.96L268.49 92.96 M268.49 91.79L268.49 94.14 M268.49 91.79L270.20 91.79 M268.49 94.14L268.56 94.14 M268.56 93.36L268.56 94.93 M268.56 93.36L270.20 93.36 M268.56 94.93L270.20 94.93 M268.14 96.50L270.20 96.50 M261.40 100.04L267.17 100.04 M267.17 98.86L267.17 101.21 M267.17 98.86L268.81 98.86 M268.81 98.07L268.81 99.64 M268.81 98.07L270.20 98.07 M268.81 99.64L270.20 99.64 M267.17 101.21L270.20 101.21 M245.60 150.23L252.70 150.23 M252.70 115.20L252.70 185.26 M252.70 115.20L257.20 115.20 M257.20 104.62L257.20 125.78 M257.20 104.62L267.00 104.62 M267.00 103.50L267.00 105.75 M267.00 103.50L268.79 103.50 M268.79 102.75L268.79 104.25 M268.79 102.75L270.20 102.75 M268.79 104.25L270.20 104.25 M267.00 105.75L270.20 105.75 M257.20 125.78L262.10 125.78 M262.10 114.50L262.10 137.05 M262.10 114.50L265.60 114.50 M265.60 108.91L265.60 120.09 M265.60 108.91L267.04 108.91 M267.04 107.27L267.04 110.55 M267.04 107.27L270.20 107.27 M267.04 110.55L267.50 110.55 M267.50 108.81L267.50 112.28 M267.50 108.81L270.20 108.81 M267.50 112.28L268.43 112.28 M268.43 111.12L268.43 113.44 M268.43 111.12L268.80 111.12 M268.80 110.35L268.80 111.90 M268.80 110.35L270.20 110.35 M268.80 111.90L270.20 111.90 M268.43 113.44L270.20 113.44 M265.60 120.09L266.24 120.09 M266.24 117.87L266.24 122.30 M266.24 117.87L267.28 117.87 M267.28 116.14L267.28 119.60 M267.28 116.14L267.67 116.14 M267.67 114.98L267.67 117.29 M267.67 114.98L270.20 114.98 M267.67 117.29L267.93 117.29 M267.93 116.52L267.93 118.06 M267.93 116.52L270.20 116.52 M267.93 118.06L270.20 118.06 M267.28 119.60L270.20 119.60 M266.24 122.30L267.97 122.30 M267.97 121.15L267.97 123.46 M267.97 121.15L270.20 121.15 M267.97 123.46L268.32 123.46 M268.32 122.69L268.32 124.23 M268.32 122.69L270.20 122.69 M268.32 124.23L270.20 124.23 M262.10 137.05L265.00 137.05 M265.00 130.16L265.00 143.95 M265.00 130.16L265.76 130.16 M265.76 125.78L265.76 134.55 M265.76 125.78L270.20 125.78 M265.76 134.55L267.29 134.55 M267.29 132.37L267.29 136.72 M267.29 132.37L267.80 132.37 M267.80 129.59L267.80 135.16 M267.80 129.59L268.28 129.59 M268.28 127.34L268.28 131.84 M268.28 127.34L270.20 127.34 M268.28 131.84L268.59 131.84 M268.59 130.08L268.59 133.59 M268.59 130.08L268.74 130.08 M268.74 128.91L268.74 131.25 M268.74 128.91L270.20 128.91 M268.74 131.25L268.97 131.25 M268.97 130.47L268.97 132.03 M268.97 130.47L270.20 130.47 M268.97 132.03L270.20 132.03 M268.59 133.59L270.20 133.59 M267.80 135.16L270.20 135.16 M267.29 136.72L270.20 136.72 M265.00 143.95L265.61 143.95 M265.61 141.60L265.61 146.29 M265.61 141.60L267.90 141.60 M267.90 140.23L267.90 142.97 M267.90 140.23L268.12 140.23 M268.12 139.06L268.12 141.41 M268.12 139.06L268.45 139.06 M268.45 138.28L268.45 139.84 M268.45 138.28L270.20 138.28 M268.45 139.84L270.20 139.84 M268.12 141.41L270.20 141.41 M267.90 142.97L270.20 142.97 M265.61 146.29L267.38 146.29 M267.38 144.53L267.38 148.05 M267.38 144.53L270.20 144.53 M267.38 148.05L267.94 148.05 M267.94 146.88L267.94 149.22 M267.94 146.88L268.84 146.88 M268.84 146.09L268.84 147.66 M268.84 146.09L270.20 146.09 M268.84 147.66L270.20 147.66 M267.94 149.22L270.20 149.22 M252.70 185.26L256.20 185.26 M256.20 154.91L256.20 215.60 M256.20 154.91L261.80 154.91 M261.80 151.96L261.80 157.86 M261.80 151.96L267.42 151.96 M267.42 150.79L267.42 153.14 M267.42 150.79L270.20 150.79 M267.42 153.14L268.30 153.14 M268.30 152.36L268.30 153.93 M268.30 152.36L270.20 152.36 M268.30 153.93L270.20 153.93 M261.80 157.86L267.17 157.86 M267.17 156.29L267.17 159.43 M267.17 156.29L268.64 156.29 M268.64 155.50L268.64 157.07 M268.64 155.50L270.20 155.50 M268.64 157.07L270.20 157.07 M267.17 159.43L268.56 159.43 M268.56 158.64L268.56 160.21 M268.56 158.64L270.20 158.64 M268.56 160.21L270.20 160.21 M256.20 215.60L258.80 215.60 M258.80 189.57L258.80 241.63 M258.80 189.57L262.80 189.57 M262.80 173.73L262.80 205.41 M262.80 173.73L263.86 173.73 M263.86 164.20L263.86 183.26 M263.86 164.20L266.18 164.20 M266.18 161.78L266.18 166.63 M266.18 161.78L270.20 161.78 M266.18 166.63L266.66 166.63 M266.66 165.27L266.66 167.99 M266.66 165.27L268.31 165.27 M268.31 164.11L268.31 166.43 M268.31 164.11L268.48 164.11 M268.48 163.33L268.48 164.88 M268.48 163.33L270.20 163.33 M268.48 164.88L270.20 164.88 M268.31 166.43L270.20 166.43 M266.66 167.99L270.20 167.99 M263.86 183.26L265.95 183.26 M265.95 178.35L265.95 188.17 M265.95 178.35L266.49 178.35 M266.49 172.31L266.49 184.39 M266.49 172.31L267.35 172.31 M267.35 170.32L267.35 174.29 M267.35 170.32L268.77 170.32 M268.77 169.54L268.77 171.09 M268.77 169.54L270.20 169.54 M268.77 171.09L270.20 171.09 M267.35 174.29L267.84 174.29 M267.84 172.64L267.84 175.94 M267.84 172.64L270.20 172.64 M267.84 175.94L268.25 175.94 M268.25 174.20L268.25 177.69 M268.25 174.20L270.20 174.20 M268.25 177.69L268.40 177.69 M268.40 176.53L268.40 178.86 M268.40 176.53L268.89 176.53 M268.89 175.75L268.89 177.30 M268.89 175.75L270.20 175.75 M268.89 177.30L270.20 177.30 M268.40 178.86L270.20 178.86 M266.49 184.39L266.95 184.39 M266.95 182.15L266.95 186.62 M266.95 182.15L268.20 182.15 M268.20 180.41L268.20 183.90 M268.20 180.41L270.20 180.41 M268.20 183.90L268.33 183.90 M268.33 182.74L268.33 185.07 M268.33 182.74L268.56 182.74 M268.56 181.96L268.56 183.51 M268.56 181.96L270.20 181.96 M268.56 183.51L270.20 183.51 M268.33 185.07L270.20 185.07 M266.95 186.62L270.20 186.62 M265.95 188.17L270.20 188.17 M262.80 205.41L263.43 205.41 M263.43 193.29L263.43 217.53 M263.43 193.29L265.47 193.29 M265.47 189.72L265.47 196.86 M265.47 189.72L270.20 189.72 M265.47 196.86L265.71 196.86 M265.71 192.73L265.71 200.98 M265.71 192.73L266.26 192.73 M266.26 191.28L266.26 194.19 M266.26 191.28L270.20 191.28 M266.26 194.19L267.80 194.19 M267.80 192.83L267.80 195.55 M267.80 192.83L270.20 192.83 M267.80 195.55L267.99 195.55 M267.99 194.38L267.99 196.71 M267.99 194.38L270.20 194.38 M267.99 196.71L268.48 196.71 M268.48 195.93L268.48 197.49 M268.48 195.93L270.20 195.93 M268.48 197.49L270.20 197.49 M265.71 200.98L267.59 200.98 M267.59 199.82L267.59 202.14 M267.59 199.82L268.02 199.82 M268.02 199.04L268.02 200.59 M268.02 199.04L270.20 199.04 M268.02 200.59L270.20 200.59 M267.59 202.14L270.20 202.14 M263.43 217.53L266.78 217.53 M266.78 215.83L266.78 219.22 M266.78 215.83L267.16 215.83 M267.16 213.99L267.16 217.67 M267.16 213.99L267.40 213.99 M267.40 211.86L267.40 216.12 M267.40 211.86L267.71 211.86 M267.71 209.16L267.71 214.57 M267.71 209.16L267.92 209.16 M267.92 205.30L267.92 213.01 M267.92 205.30L267.99 205.30 M267.99 203.70L267.99 206.90 M267.99 203.70L270.20 203.70 M267.99 206.90L268.28 206.90 M268.28 205.25L268.28 208.55 M268.28 205.25L270.20 205.25 M268.28 208.55L268.44 208.55 M268.44 206.80L268.44 210.30 M268.44 206.80L270.20 206.80 M268.44 210.30L268.57 210.30 M268.57 209.13L268.57 211.46 M268.57 209.13L268.74 209.13 M268.74 208.36L268.74 209.91 M268.74 208.36L270.20 208.36 M268.74 209.91L270.20 209.91 M268.57 211.46L270.20 211.46 M267.92 213.01L270.20 213.01 M267.71 214.57L270.20 214.57 M267.40 216.12L270.20 216.12 M267.16 217.67L270.20 217.67 M266.78 219.22L270.20 219.22 M258.80 241.63L262.50 241.63 M262.50 232.67L262.50 250.60 M262.50 232.67L264.50 232.67 M264.50 228.03L264.50 237.31 M264.50 228.03L265.18 228.03 M265.18 224.52L265.18 231.54 M265.18 224.52L265.79 224.52 M265.79 221.92L265.79 227.12 M265.79 221.92L268.32 221.92 M268.32 220.77L268.32 223.08 M268.32 220.77L270.20 220.77 M268.32 223.08L268.59 223.08 M268.59 222.31L268.59 223.85 M268.59 222.31L270.20 222.31 M268.59 223.85L270.20 223.85 M265.79 227.12L267.03 227.12 M267.03 225.38L267.03 228.85 M267.03 225.38L270.20 225.38 M267.03 228.85L267.40 228.85 M267.40 227.69L267.40 230.00 M267.40 227.69L267.86 227.69 M267.86 226.92L267.86 228.46 M267.86 226.92L270.20 226.92 M267.86 228.46L270.20 228.46 M267.40 230.00L270.20 230.00 M265.18 231.54L270.20 231.54 M264.50 237.31L267.57 237.31 M267.57 235.38L267.57 239.23 M267.57 235.38L267.95 235.38 M267.95 233.85L267.95 236.92 M267.95 233.85L268.71 233.85 M268.71 233.08L268.71 234.62 M268.71 233.08L270.20 233.08 M268.71 234.62L270.20 234.62 M267.95 236.92L268.17 236.92 M268.17 236.15L268.17 237.69 M268.17 236.15L270.20 236.15 M268.17 237.69L270.20 237.69 M267.57 239.23L270.20 239.23 M262.50 250.60L264.90 250.60 M264.90 242.33L264.90 258.87 M264.90 242.33L268.00 242.33 M268.00 241.33L268.00 243.33 M268.00 241.33L268.46 241.33 M268.46 240.67L268.46 242.00 M268.46 240.67L270.20 240.67 M268.46 242.00L270.20 242.00 M268.00 243.33L270.20 243.33 M264.90 258.87L267.50 258.87 M267.50 249.77L267.50 267.97 M267.50 249.77L268.00 249.77 M268.00 245.95L268.00 253.59 M268.00 245.95L268.65 245.95 M268.65 244.78L268.65 247.12 M268.65 244.78L270.20 244.78 M268.65 247.12L268.95 247.12 M268.95 246.34L268.95 247.90 M268.95 246.34L270.20 246.34 M268.95 247.90L270.20 247.90 M268.00 253.59L268.18 253.59 M268.18 250.23L268.18 256.95 M268.18 250.23L268.46 250.23 M268.46 249.45L268.46 251.01 M268.46 249.45L270.20 249.45 M268.46 251.01L270.20 251.01 M268.18 256.95L268.56 256.95 M268.56 254.32L268.56 259.58 M268.56 254.32L268.86 254.32 M268.86 252.57L268.86 256.08 M268.86 252.57L270.20 252.57 M268.86 256.08L268.94 256.08 M268.94 254.91L268.94 257.25 M268.94 254.91L269.05 254.91 M269.05 254.13L269.05 255.69 M269.05 254.13L270.20 254.13 M269.05 255.69L270.20 255.69 M268.94 257.25L270.20 257.25 M268.56 259.58L268.89 259.58 M268.89 258.80L268.89 260.36 M268.89 258.80L270.20 258.80 M268.89 260.36L270.20 260.36 M267.50 267.97L268.03 267.97 M268.03 261.92L268.03 274.01 M268.03 261.92L270.20 261.92 M268.03 274.01L268.33 274.01 M268.33 267.40L268.33 280.62 M268.33 267.40L268.43 267.40 M268.43 263.48L268.43 271.32 M268.43 263.48L270.20 263.48 M268.43 271.32L268.65 271.32 M268.65 267.96L268.65 274.68 M268.65 267.96L268.82 267.96 M268.82 266.21L268.82 269.71 M268.82 266.21L268.91 266.21 M268.91 265.04L268.91 267.38 M268.91 265.04L270.20 265.04 M268.91 267.38L269.00 267.38 M269.00 266.60L269.00 268.15 M269.00 266.60L270.20 266.60 M269.00 268.15L270.20 268.15 M268.82 269.71L270.20 269.71 M268.65 274.68L268.83 274.68 M268.83 272.05L268.83 277.31 M268.83 272.05L269.03 272.05 M269.03 271.27L269.03 272.83 M269.03 271.27L270.20 271.27 M269.03 272.83L270.20 272.83 M268.83 277.31L269.04 277.31 M269.04 275.56L269.04 279.06 M269.04 275.56L269.25 275.56 M269.25 274.39L269.25 276.73 M269.25 274.39L270.20 274.39 M269.25 276.73L269.33 276.73 M269.33 275.95L269.33 277.50 M269.33 275.95L270.20 275.95 M269.33 277.50L270.20 277.50 M269.04 279.06L270.20 279.06 M268.33 280.62L270.20 280.62" fill="none" stroke="#2a2a2a" stroke-width="0.7"/>
<path d="M469.50 60.81L469.50 87.37 M469.50 60.81L489.80 60.81 M489.80 60.08L489.80 61.53 M489.80 60.08L501.80 60.08 M489.80 61.53L500.38 61.53 M500.38 61.05L500.38 62.02 M500.38 61.05L501.80 61.05 M500.38 62.02L501.80 62.02 M469.50 87.37L482.30 87.37 M482.30 69.10L482.30 105.65 M482.30 69.10L485.10 69.10 M485.10 63.25L485.10 74.94 M485.10 63.25L496.00 63.25 M496.00 62.88L496.00 63.62 M496.00 62.88L501.80 62.88 M496.00 63.62L501.80 63.62 M485.10 74.94L494.60 74.94 M494.60 68.54L494.60 81.35 M494.60 68.54L497.25 68.54 M497.25 64.52L497.25 72.55 M497.25 64.52L501.80 64.52 M497.25 72.55L497.50 72.55 M497.50 71.15L497.50 73.95 M497.50 71.15L497.79 71.15 M497.79 69.39L497.79 72.90 M497.79 69.39L498.58 69.39 M498.58 66.91L498.58 71.86 M498.58 66.91L499.09 66.91 M499.09 65.57L499.09 68.26 M499.09 65.57L501.80 65.57 M499.09 68.26L499.27 68.26 M499.27 66.62L499.27 69.89 M499.27 66.62L501.80 66.62 M499.27 69.89L499.44 69.89 M499.44 68.98L499.44 70.81 M499.44 68.98L499.60 68.98 M499.60 68.19L499.60 69.76 M499.60 68.19L499.72 68.19 M499.72 67.67L499.72 68.71 M499.72 67.67L501.80 67.67 M499.72 68.71L501.80 68.71 M499.60 69.76L501.80 69.76 M499.44 70.81L501.80 70.81 M498.58 71.86L501.80 71.86 M497.79 72.90L501.80 72.90 M497.50 73.95L501.80 73.95 M494.60 81.35L496.62 81.35 M496.62 77.22L496.62 85.48 M496.62 77.22L497.42 77.22 M497.42 75.00L497.42 79.45 M497.42 75.00L501.80 75.00 M497.42 79.45L498.26 79.45 M498.26 76.05L498.26 82.85 M498.26 76.05L501.80 76.05 M498.26 82.85L498.66 82.85 M498.66 81.27L498.66 84.43 M498.66 81.27L499.28 81.27 M499.28 79.16L499.28 83.38 M499.28 79.16L499.42 79.16 M499.42 77.10L499.42 81.22 M499.42 77.10L501.80 77.10 M499.42 81.22L499.86 81.22 M499.86 80.11L499.86 82.33 M499.86 80.11L500.05 80.11 M500.05 78.93L500.05 81.29 M500.05 78.93L500.11 78.93 M500.11 78.14L500.11 79.71 M500.11 78.14L501.80 78.14 M500.11 79.71L500.44 79.71 M500.44 79.19L500.44 80.24 M500.44 79.19L501.80 79.19 M500.44 80.24L501.80 80.24 M500.05 81.29L501.80 81.29 M499.86 82.33L501.80 82.33 M499.28 83.38L501.80 83.38 M498.66 84.43L501.80 84.43 M496.62 85.48L501.80 85.48 M482.30 105.65L484.60 105.65 M484.60 88.88L484.60 122.43 M484.60 88.88L499.00 88.88 M499.00 87.75L499.00 90.00 M499.00 87.75L499.54 87.75 M499.54 87.00L499.54 88.50 M499.54 87.00L500.22 87.00 M500.22 86.50L500.22 87.50 M500.22 86.50L501.80 86.50 M500.22 87.50L501.80 87.50 M499.54 88.50L501.80 88.50 M499.00 90.00L499.54 90.00 M499.54 89.50L499.54 90.50 M499.54 89.50L501.80 89.50 M499.54 90.50L501.80 90.50 M484.60 122.43L488.80 122.43 M488.80 92.46L488.80 152.39 M488.80 92.46L497.40 92.46 M497.40 91.58L497.40 93.33 M497.40 91.58L501.80 91.58 M497.40 93.33L500.38 93.33 M500.38 92.75L500.38 93.92 M500.38 92.75L501.80 92.75 M500.38 93.92L501.80 93.92 M488.80 152.39L490.60 152.39 M490.60 117.32L490.60 187.46 M490.60 117.32L494.80 117.32 M494.80 107.01L494.80 127.64 M494.80 107.01L497.00 107.01 M497.00 100.58L497.00 113.44 M497.00 100.58L497.66 100.58 M497.66 97.94L497.66 103.21 M497.66 97.94L498.34 97.94 M498.34 95.01L498.34 100.87 M498.34 95.01L501.80 95.01 M498.34 100.87L498.55 100.87 M498.55 99.56L498.55 102.19 M498.55 99.56L498.92 99.56 M498.92 97.96L498.92 101.16 M498.92 97.96L499.17 97.96 M499.17 96.55L499.17 99.37 M499.17 96.55L500.21 96.55 M500.21 96.04L500.21 97.06 M500.21 96.04L501.80 96.04 M500.21 97.06L501.80 97.06 M499.17 99.37L499.68 99.37 M499.68 98.60L499.68 100.14 M499.68 98.60L500.09 98.60 M500.09 98.09L500.09 99.11 M500.09 98.09L501.80 98.09 M500.09 99.11L501.80 99.11 M499.68 100.14L501.80 100.14 M498.92 101.16L501.80 101.16 M498.55 102.19L501.80 102.19 M497.66 103.21L501.80 103.21 M497.00 113.44L497.84 113.44 M497.84 112.39L497.84 114.49 M497.84 112.39L498.02 112.39 M498.02 111.31L498.02 113.46 M498.02 111.31L498.32 111.31 M498.32 110.19L498.32 112.44 M498.32 110.19L498.63 110.19 M498.63 108.96L498.63 111.41 M498.63 108.96L499.16 108.96 M499.16 107.54L499.16 110.39 M499.16 107.54L499.40 107.54 M499.40 105.71L499.40 109.36 M499.40 105.71L499.65 105.71 M499.65 104.24L499.65 107.18 M499.65 104.24L501.80 104.24 M499.65 107.18L499.96 107.18 M499.96 106.03L499.96 108.34 M499.96 106.03L500.31 106.03 M500.31 105.26L500.31 106.80 M500.31 105.26L501.80 105.26 M500.31 106.80L500.47 106.80 M500.47 106.29L500.47 107.31 M500.47 106.29L501.80 106.29 M500.47 107.31L501.80 107.31 M499.96 108.34L501.80 108.34 M499.40 109.36L501.80 109.36 M499.16 110.39L501.80 110.39 M498.63 111.41L501.80 111.41 M498.32 112.44L501.80 112.44 M498.02 113.46L501.80 113.46 M497.84 114.49L501.80 114.49 M494.80 127.64L497.00 127.64 M497.00 122.28L497.00 133.00 M497.00 122.28L498.28 122.28 M498.28 117.59L498.28 126.98 M498.28 117.59L498.70 117.59 M498.70 115.52L498.70 119.66 M498.70 115.52L501.80 115.52 M498.70 119.66L499.21 119.66 M499.21 116.56L499.21 122.76 M499.21 116.56L501.80 116.56 M499.21 122.76L499.43 122.76 M499.43 119.57L499.43 125.94 M499.43 119.57L499.55 119.57 M499.55 117.60L499.55 121.54 M499.55 117.60L501.80 117.60 M499.55 121.54L499.91 121.54 M499.91 119.17L499.91 123.92 M499.91 119.17L500.55 119.17 M500.55 118.65L500.55 119.69 M500.55 118.65L501.80 118.65 M500.55 119.69L501.80 119.69 M499.91 123.92L500.26 123.92 M500.26 122.94L500.26 124.90 M500.26 122.94L500.32 122.94 M500.32 122.03L500.32 123.85 M500.32 122.03L500.62 122.03 M500.62 121.25L500.62 122.81 M500.62 121.25L500.84 121.25 M500.84 120.73L500.84 121.77 M500.84 120.73L501.80 120.73 M500.84 121.77L501.80 121.77 M500.62 122.81L501.80 122.81 M500.32 123.85L501.80 123.85 M500.26 124.90L501.80 124.90 M499.43 125.94L501.80 125.94 M498.28 126.98L501.80 126.98 M497.00 133.00L497.71 133.00 M497.71 128.02L497.71 137.98 M497.71 128.02L501.80 128.02 M497.71 137.98L498.13 137.98 M498.13 136.48L498.13 139.48 M498.13 136.48L498.37 136.48 M498.37 134.51L498.37 138.44 M498.37 134.51L498.81 134.51 M498.81 131.63L498.81 137.40 M498.81 131.63L499.01 131.63 M499.01 129.06L499.01 134.21 M499.01 129.06L501.80 129.06 M499.01 134.21L499.13 134.21 M499.13 132.58L499.13 135.83 M499.13 132.58L499.39 132.58 M499.39 131.41L499.39 133.75 M499.39 131.41L499.74 131.41 M499.74 130.62L499.74 132.19 M499.74 130.62L500.14 130.62 M500.14 130.10L500.14 131.15 M500.14 130.10L501.80 130.10 M500.14 131.15L501.80 131.15 M499.74 132.19L501.80 132.19 M499.39 133.75L499.75 133.75 M499.75 133.23L499.75 134.27 M499.75 133.23L501.80 133.23 M499.75 134.27L501.80 134.27 M499.13 135.83L500.08 135.83 M500.08 135.31L500.08 136.35 M500.08 135.31L501.80 135.31 M500.08 136.35L501.80 136.35 M498.81 137.40L501.80 137.40 M498.37 138.44L501.80 138.44 M498.13 139.48L501.80 139.48 M490.60 187.46L492.50 187.46 M492.50 149.16L492.50 225.77 M492.50 149.16L496.60 149.16 M496.60 143.88L496.60 154.43 M496.60 143.88L496.79 143.88 M496.79 140.53L496.79 147.23 M496.79 140.53L501.80 140.53 M496.79 147.23L497.78 147.23 M497.78 145.40L497.78 149.07 M497.78 145.40L497.96 145.40 M497.96 143.60L497.96 147.20 M497.96 143.60L498.39 143.60 M498.39 142.40L498.39 144.80 M498.39 142.40L499.66 142.40 M499.66 141.60L499.66 143.20 M499.66 141.60L501.80 141.60 M499.66 143.20L499.84 143.20 M499.84 142.67L499.84 143.73 M499.84 142.67L501.80 142.67 M499.84 143.73L501.80 143.73 M498.39 144.80L501.80 144.80 M497.96 147.20L499.68 147.20 M499.68 146.40L499.68 148.00 M499.68 146.40L499.76 146.40 M499.76 145.87L499.76 146.93 M499.76 145.87L501.80 145.87 M499.76 146.93L501.80 146.93 M499.68 148.00L501.80 148.00 M497.78 149.07L501.80 149.07 M496.60 154.43L497.97 154.43 M497.97 153.40L497.97 155.47 M497.97 153.40L498.62 153.40 M498.62 152.40L498.62 154.40 M498.62 152.40L498.98 152.40 M498.98 151.47L498.98 153.33 M498.98 151.47L499.17 151.47 M499.17 150.67L499.17 152.27 M499.17 150.67L500.08 150.67 M500.08 150.13L500.08 151.20 M500.08 150.13L501.80 150.13 M500.08 151.20L501.80 151.20 M499.17 152.27L501.80 152.27 M498.98 153.33L501.80 153.33 M498.62 154.40L501.80 154.40 M497.97 155.47L501.80 155.47 M492.50 225.77L495.50 225.77 M495.50 187.62L495.50 263.92 M495.50 187.62L496.30 187.62 M496.30 165.46L496.30 209.77 M496.30 165.46L498.50 165.46 M498.50 161.48L498.50 169.45 M498.50 161.48L498.70 161.48 M498.70 159.00L498.70 163.96 M498.70 159.00L499.14 159.00 M499.14 157.83L499.14 160.17 M499.14 157.83L499.52 157.83 M499.52 157.04L499.52 158.61 M499.52 157.04L499.90 157.04 M499.90 156.52L499.90 157.57 M499.90 156.52L501.80 156.52 M499.90 157.57L501.80 157.57 M499.52 158.61L501.80 158.61 M499.14 160.17L500.32 160.17 M500.32 159.65L500.32 160.70 M500.32 159.65L501.80 159.65 M500.32 160.70L501.80 160.70 M498.70 163.96L499.61 163.96 M499.61 163.04L499.61 164.87 M499.61 163.04L500.01 163.04 M500.01 162.26L500.01 163.83 M500.01 162.26L500.32 162.26 M500.32 161.74L500.32 162.78 M500.32 161.74L501.80 161.74 M500.32 162.78L501.80 162.78 M500.01 163.83L501.80 163.83 M499.61 164.87L501.80 164.87 M498.50 169.45L498.89 169.45 M498.89 165.91L498.89 172.99 M498.89 165.91L501.80 165.91 M498.89 172.99L499.38 172.99 M499.38 168.07L499.38 177.91 M499.38 168.07L499.70 168.07 M499.70 166.96L499.70 169.17 M499.70 166.96L501.80 166.96 M499.70 169.17L499.92 169.17 M499.92 168.00L499.92 170.35 M499.92 168.00L501.80 168.00 M499.92 170.35L500.05 170.35 M500.05 169.57L500.05 171.13 M500.05 169.57L500.24 169.57 M500.24 169.04L500.24 170.09 M500.24 169.04L501.80 169.04 M500.24 170.09L501.80 170.09 M500.05 171.13L501.80 171.13 M499.38 177.91L499.51 177.91 M499.51 176.35L499.51 179.48 M499.51 176.35L499.67 176.35 M499.67 174.26L499.67 178.43 M499.67 174.26L499.80 174.26 M499.80 172.70L499.80 175.83 M499.80 172.70L500.57 172.70 M500.57 172.17L500.57 173.22 M500.57 172.17L501.80 172.17 M500.57 173.22L501.80 173.22 M499.80 175.83L500.01 175.83 M500.01 174.78L500.01 176.87 M500.01 174.78L500.09 174.78 M500.09 174.26L500.09 175.30 M500.09 174.26L501.80 174.26 M500.09 175.30L501.80 175.30 M500.01 176.87L500.33 176.87 M500.33 176.35L500.33 177.39 M500.33 176.35L501.80 176.35 M500.33 177.39L501.80 177.39 M499.67 178.43L501.80 178.43 M499.51 179.48L501.80 179.48 M496.30 209.77L497.20 209.77 M497.20 190.19L497.20 229.36 M497.20 190.19L499.50 190.19 M499.50 184.05L499.50 196.32 M499.50 184.05L499.59 184.05 M499.59 180.52L499.59 187.58 M499.59 180.52L501.80 180.52 M499.59 187.58L499.97 187.58 M499.97 183.70L499.97 191.46 M499.97 183.70L500.32 183.70 M500.32 181.56L500.32 185.84 M500.32 181.56L501.80 181.56 M500.32 185.84L500.39 185.84 M500.39 183.12L500.39 188.56 M500.39 183.12L500.50 183.12 M500.50 182.60L500.50 183.65 M500.50 182.60L501.80 182.60 M500.50 183.65L501.80 183.65 M500.39 188.56L500.64 188.56 M500.64 187.23L500.64 189.90 M500.64 187.23L500.81 187.23 M500.81 185.60L500.81 188.85 M500.81 185.60L500.95 185.60 M500.95 184.69L500.95 186.51 M500.95 184.69L501.80 184.69 M500.95 186.51L501.10 186.51 M501.10 185.73L501.10 187.29 M501.10 185.73L501.80 185.73 M501.10 187.29L501.24 187.29 M501.24 186.77L501.24 187.81 M501.24 186.77L501.80 186.77 M501.24 187.81L501.80 187.81 M500.81 188.85L501.80 188.85 M500.64 189.90L501.80 189.90 M499.97 191.46L500.57 191.46 M500.57 190.94L500.57 191.98 M500.57 190.94L501.80 190.94 M500.57 191.98L501.80 191.98 M499.50 196.32L499.61 196.32 M499.61 193.02L499.61 199.63 M499.61 193.02L501.80 193.02 M499.61 199.63L499.70 199.63 M499.70 196.41L499.70 202.85 M499.70 196.41L500.00 196.41 M500.00 194.84L500.00 197.97 M500.00 194.84L500.32 194.84 M500.32 194.06L500.32 195.62 M500.32 194.06L501.80 194.06 M500.32 195.62L500.48 195.62 M500.48 195.10L500.48 196.15 M500.48 195.10L501.80 195.10 M500.48 196.15L501.80 196.15 M500.00 197.97L500.24 197.97 M500.24 197.19L500.24 198.75 M500.24 197.19L501.80 197.19 M500.24 198.75L500.46 198.75 M500.46 198.23L500.46 199.27 M500.46 198.23L501.80 198.23 M500.46 199.27L501.80 199.27 M499.70 202.85L499.80 202.85 M499.80 201.22L499.80 204.48 M499.80 201.22L499.90 201.22 M499.90 200.31L499.90 202.14 M499.90 200.31L501.80 200.31 M499.90 202.14L500.19 202.14 M500.19 201.35L500.19 202.92 M500.19 201.35L501.80 201.35 M500.19 202.92L500.24 202.92 M500.24 202.40L500.24 203.44 M500.24 202.40L501.80 202.40 M500.24 203.44L501.80 203.44 M499.80 204.48L501.80 204.48 M497.20 229.36L497.80 229.36 M497.80 219.05L497.80 239.66 M497.80 219.05L500.00 219.05 M500.00 212.71L500.00 225.39 M500.00 212.71L500.09 212.71 M500.09 211.53L500.09 213.89 M500.09 211.53L500.14 211.53 M500.14 210.21L500.14 212.84 M500.14 210.21L500.44 210.21 M500.44 208.63L500.44 211.80 M500.44 208.63L500.67 208.63 M500.67 206.50L500.67 210.75 M500.67 206.50L500.78 206.50 M500.78 205.52L500.78 207.48 M500.78 205.52L501.80 205.52 M500.78 207.48L500.86 207.48 M500.86 206.57L500.86 208.40 M500.86 206.57L501.80 206.57 M500.86 208.40L500.95 208.40 M500.95 207.61L500.95 209.18 M500.95 207.61L501.80 207.61 M500.95 209.18L501.03 209.18 M501.03 208.66L501.03 209.70 M501.03 208.66L501.80 208.66 M501.03 209.70L501.80 209.70 M500.67 210.75L501.80 210.75 M500.44 211.80L501.80 211.80 M500.14 212.84L501.80 212.84 M500.09 213.89L501.80 213.89 M500.00 225.39L500.30 225.39 M500.30 223.31L500.30 227.48 M500.30 223.31L500.41 223.31 M500.41 220.19L500.41 226.43 M500.41 220.19L500.49 220.19 M500.49 217.81L500.49 222.58 M500.49 217.81L500.55 217.81 M500.55 216.50L500.55 219.11 M500.55 216.50L500.76 216.50 M500.76 215.45L500.76 217.55 M500.76 215.45L500.90 215.45 M500.90 214.93L500.90 215.98 M500.90 214.93L501.80 214.93 M500.90 215.98L501.80 215.98 M500.76 217.55L500.89 217.55 M500.89 217.02L500.89 218.07 M500.89 217.02L501.80 217.02 M500.89 218.07L501.80 218.07 M500.55 219.11L501.80 219.11 M500.49 222.58L500.57 222.58 M500.57 220.68L500.57 224.47 M500.57 220.68L500.74 220.68 M500.74 220.16L500.74 221.20 M500.74 220.16L501.80 220.16 M500.74 221.20L501.80 221.20 M500.57 224.47L500.62 224.47 M500.62 223.56L500.62 225.39 M500.62 223.56L500.75 223.56 M500.75 222.77L500.75 224.34 M500.75 222.77L500.93 222.77 M500.93 222.25L500.93 223.30 M500.93 222.25L501.80 222.25 M500.93 223.30L501.80 223.30 M500.75 224.34L501.80 224.34 M500.62 225.39L501.80 225.39 M500.41 226.43L501.80 226.43 M500.30 227.48L501.80 227.48 M497.80 239.66L499.80 239.66 M499.80 233.08L499.80 246.25 M499.80 233.08L500.17 233.08 M500.17 228.52L500.17 237.63 M500.17 228.52L501.80 228.52 M500.17 237.63L500.33 237.63 M500.33 235.22L500.33 240.05 M500.33 235.22L500.60 235.22 M500.60 233.01L500.60 237.43 M500.60 233.01L500.81 233.01 M500.81 231.21L500.81 234.81 M500.81 231.21L500.99 231.21 M500.99 229.57L500.99 232.85 M500.99 229.57L501.80 229.57 M500.99 232.85L501.03 232.85 M501.03 231.93L501.03 233.76 M501.03 231.93L501.16 231.93 M501.16 231.14L501.16 232.71 M501.16 231.14L501.25 231.14 M501.25 230.62L501.25 231.67 M501.25 230.62L501.80 230.62 M501.25 231.67L501.80 231.67 M501.16 232.71L501.80 232.71 M501.03 233.76L501.80 233.76 M500.81 234.81L501.80 234.81 M500.60 237.43L500.64 237.43 M500.64 236.38L500.64 238.48 M500.64 236.38L500.81 236.38 M500.81 235.86L500.81 236.90 M500.81 235.86L501.80 235.86 M500.81 236.90L501.80 236.90 M500.64 238.48L500.70 238.48 M500.70 237.95L500.70 239.00 M500.70 237.95L501.80 237.95 M500.70 239.00L501.80 239.00 M500.33 240.05L501.80 240.05 M499.80 246.25L500.02 246.25 M500.02 243.55L500.02 248.95 M500.02 243.55L500.25 243.55 M500.25 241.10L500.25 246.01 M500.25 241.10L501.80 241.10 M500.25 246.01L500.54 246.01 M500.54 244.63L500.54 247.38 M500.54 244.63L500.76 244.63 M500.76 243.45L500.76 245.81 M500.76 243.45L500.86 243.45 M500.86 242.67L500.86 244.24 M500.86 242.67L501.04 242.67 M501.04 242.14L501.04 243.19 M501.04 242.14L501.80 242.14 M501.04 243.19L501.80 243.19 M500.86 244.24L501.80 244.24 M500.76 245.81L500.92 245.81 M500.92 245.29L500.92 246.33 M500.92 245.29L501.80 245.29 M500.92 246.33L501.80 246.33 M500.54 247.38L501.80 247.38 M500.02 248.95L500.30 248.95 M500.30 248.43L500.30 249.48 M500.30 248.43L501.80 248.43 M500.30 249.48L501.80 249.48 M495.50 263.92L497.50 263.92 M497.50 255.99L497.50 271.84 M497.50 255.99L500.00 255.99 M500.00 251.67L500.00 260.30 M500.00 251.67L500.27 251.67 M500.27 250.54L500.27 252.81 M500.27 250.54L501.80 250.54 M500.27 252.81L500.32 252.81 M500.32 251.62L500.32 254.00 M500.32 251.62L501.80 251.62 M500.32 254.00L500.49 254.00 M500.49 252.69L500.49 255.32 M500.49 252.69L501.80 252.69 M500.49 255.32L500.68 255.32 M500.68 253.77L500.68 256.87 M500.68 253.77L501.80 253.77 M500.68 256.87L500.89 256.87 M500.89 255.65L500.89 258.08 M500.89 255.65L500.98 255.65 M500.98 254.85L500.98 256.46 M500.98 254.85L501.80 254.85 M500.98 256.46L501.08 256.46 M501.08 255.92L501.08 257.00 M501.08 255.92L501.80 255.92 M501.08 257.00L501.80 257.00 M500.89 258.08L501.80 258.08 M500.00 260.30L500.26 260.30 M500.26 259.15L500.26 261.44 M500.26 259.15L501.80 259.15 M500.26 261.44L500.47 261.44 M500.47 260.23L500.47 262.65 M500.47 260.23L501.80 260.23 M500.47 262.65L500.54 262.65 M500.54 261.85L500.54 263.46 M500.54 261.85L500.73 261.85 M500.73 261.31L500.73 262.38 M500.73 261.31L501.80 261.31 M500.73 262.38L501.80 262.38 M500.54 263.46L501.80 263.46 M497.50 271.84L499.50 271.84 M499.50 268.73L499.50 274.95 M499.50 268.73L499.93 268.73 M499.93 266.69L499.93 270.78 M499.93 266.69L500.18 266.69 M500.18 265.79L500.18 267.58 M500.18 265.79L500.45 265.79 M500.45 265.02L500.45 266.56 M500.45 265.02L500.64 265.02 M500.64 264.51L500.64 265.54 M500.64 264.51L501.80 264.51 M500.64 265.54L501.80 265.54 M500.45 266.56L501.80 266.56 M500.18 267.58L501.80 267.58 M499.93 270.78L500.04 270.78 M500.04 269.37L500.04 272.19 M500.04 269.37L500.17 269.37 M500.17 268.61L500.17 270.14 M500.17 268.61L501.80 268.61 M500.17 270.14L500.30 270.14 M500.30 269.63L500.30 270.65 M500.30 269.63L501.80 269.63 M500.30 270.65L501.80 270.65 M500.04 272.19L500.39 272.19 M500.39 271.68L500.39 272.70 M500.39 271.68L501.80 271.68 M500.39 272.70L501.80 272.70 M499.50 274.95L499.58 274.95 M499.58 273.72L499.58 276.19 M499.58 273.72L501.80 273.72 M499.58 276.19L499.70 276.19 M499.70 274.75L499.70 277.63 M499.70 274.75L501.80 274.75 M499.70 277.63L499.95 277.63 M499.95 276.28L499.95 278.97 M499.95 276.28L500.15 276.28 M500.15 275.77L500.15 276.79 M500.15 275.77L501.80 275.77 M500.15 276.79L501.80 276.79 M499.95 278.97L500.06 278.97 M500.06 277.82L500.06 280.12 M500.06 277.82L501.80 277.82 M500.06 280.12L500.32 280.12 M500.32 279.35L500.32 280.89 M500.32 279.35L500.59 279.35 M500.59 278.84L500.59 279.86 M500.59 278.84L501.80 278.84 M500.59 279.86L501.80 279.86 M500.32 280.89L501.80 280.89" fill="none" stroke="#2a2a2a" stroke-width="0.7"/>
</svg></body></html>
